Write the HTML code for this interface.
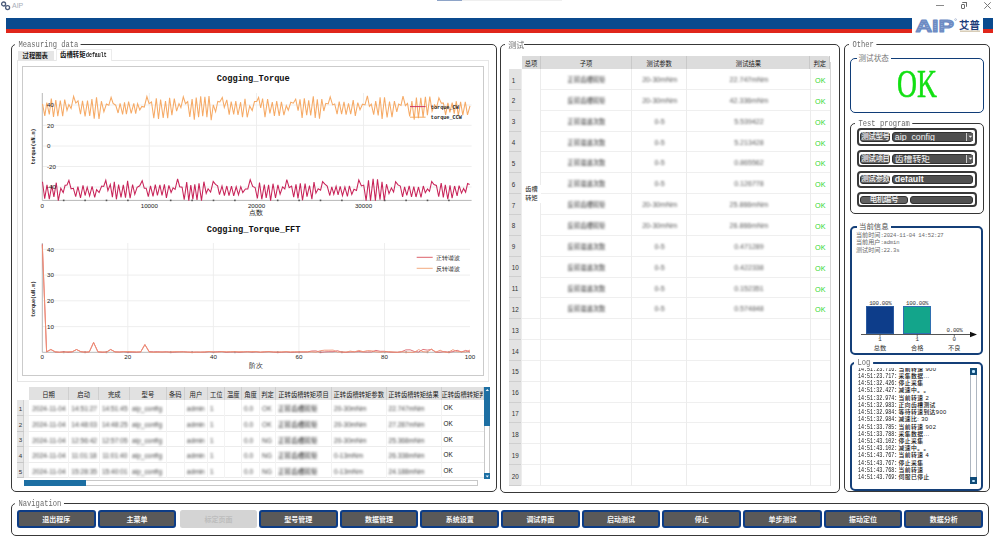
<!DOCTYPE html><html><head><meta charset="utf-8"><title>AIP</title><style>
*{box-sizing:border-box;margin:0;padding:0}
html,body{width:1000px;height:540px;overflow:hidden;background:#fff;font-family:'Liberation Sans','Noto Sans CJK SC',sans-serif;}
.a{position:absolute}
.gb{position:absolute;border:1.8px solid #353535;border-radius:5px}
.gt{position:absolute;background:#fff;font-family:'Liberation Mono','Noto Sans CJK SC',monospace;color:#6a6a6a;font-size:8.6px;line-height:8px;padding:0 3px 0 4.2px;white-space:nowrap;transform:scaleX(0.83);transform-origin:0 0}
.blur{filter:blur(0.95px)}
</style></head><body>
<svg class="a" style="left:0;top:0" width="12" height="12" viewBox="0 0 12 12">
<circle cx="3.6" cy="4" r="2" fill="none" stroke="#4b5b7a" stroke-width="1.3"/>
<circle cx="7.6" cy="7.6" r="2" fill="none" stroke="#4b5b7a" stroke-width="1.3"/></svg>
<div class="a" style="left:12px;top:2px;font:7px 'Liberation Sans','Noto Sans CJK SC',sans-serif;color:#a8adb8;line-height:8px">AIP</div>
<div class="a" style="left:936px;top:5px;width:8px;height:1px;background:#8a8a8a"></div>
<div class="a" style="left:960.5px;top:4px;width:4.6px;height:4.6px;border:1px solid #6a6a6a;border-radius:1px"></div>
<div class="a" style="left:962.2px;top:2.4px;width:4.4px;height:4.4px;border-top:1px solid #6a6a6a;border-right:1px solid #6a6a6a;border-radius:1px"></div>
<svg class="a" style="left:983px;top:1px" width="9" height="9" viewBox="0 0 9 9"><path d="M1.3 1.3L7.7 7.7M7.7 1.3L1.3 7.7" stroke="#777" stroke-width="1"/></svg>
<div class="a" style="left:437px;top:0;width:25px;height:1.2px;background:#8ea4c8"></div>
<div class="a" style="left:462px;top:0;width:100px;height:1px;background:#efefef"></div>
<div class="a" style="left:6px;top:18px;width:905.5px;height:11px;background:#0a4a8e"></div>
<div class="a" style="left:6px;top:29px;width:905.5px;height:4px;background:#e0261b"></div>
<div class="a" style="left:983.3px;top:18px;width:10.2px;height:11px;background:#0a4a8e"></div>
<div class="a" style="left:983.3px;top:29px;width:10.2px;height:4px;background:#e0261b"></div>
<svg class="a" style="left:913px;top:17px" width="70" height="17" viewBox="0 0 70 17">
<defs><pattern id="st" width="4" height="2.2" patternUnits="userSpaceOnUse"><rect width="4" height="2.2" fill="#6d8bc3"/><rect y="1.5" width="4" height="0.7" fill="#9db3dc"/></pattern></defs>
<text x="2.4" y="15" font-family="Liberation Sans" font-weight="bold" font-size="17" fill="url(#st)" stroke="#6d8bc3" stroke-width="1.1" stroke-linejoin="round" textLength="38.5" lengthAdjust="spacingAndGlyphs">AIP</text>
<circle cx="42.6" cy="2.6" r="0.9" fill="none" stroke="#7d90b8" stroke-width="0.5"/>
<text x="46" y="12.2" font-family="Noto Sans CJK SC" font-weight="bold" font-size="10.5" fill="#1b3b78" textLength="20.8" lengthAdjust="spacingAndGlyphs">艾普</text>
<rect x="47" y="13.6" width="20" height="1.1" fill="#c8b89a"/>
</svg>
<div class="gb" style="left:10.6px;top:43.6px;width:486.09999999999997px;height:448.59999999999997px;border-color:#383838;border-radius:5px"></div>
<div class="gt" style="left:15px;top:40.7px;">Measuring data</div>
<div class="gb" style="left:500.3px;top:43.9px;width:340.09999999999997px;height:448.8px;border-color:#383838;border-radius:5px"></div>
<div class="gt" style="left:505px;top:41.0px;font-family:'Liberation Sans','Noto Sans CJK SC',sans-serif;"><span style="font-size:8px;display:inline-block;transform:scaleX(1.2);transform-origin:0 0">测试</span></div>
<div class="gb" style="left:844.0px;top:44.2px;width:145.60000000000002px;height:448.1px;border-color:#383838;border-radius:5px"></div>
<div class="gt" style="left:848.5px;top:41.300000000000004px;">Other</div>
<div class="gb" style="left:10.7px;top:502.9px;width:978.4px;height:33.200000000000045px;border-color:#383838;border-radius:5px"></div>
<div class="gt" style="left:15px;top:500.0px;">Navigation</div>
<div class="a" style="left:17px;top:60px;width:472.3px;height:322.2px;border:1px solid #e6e6e6"></div>
<div class="a" style="left:18px;top:50.8px;width:35.8px;height:9.8px;background:#e6e6e6"></div>
<div class="a" style="left:22.6px;top:52.2px;font:bold 6.3px 'Liberation Sans','Noto Sans CJK SC',sans-serif;line-height:8px;color:#1a1a1a">过程图表</div>
<div class="a" style="left:55.8px;top:49.2px;width:56.4px;height:11.8px;background:#fff;border:1px solid #ececec;border-bottom:none"></div>
<div class="a" style="left:60px;top:51px;font:bold 6.4px 'Liberation Sans','Noto Sans CJK SC',sans-serif;line-height:8px;color:#111;white-space:nowrap">齿槽转矩<span style="display:inline-block;font-family:'Liberation Mono',monospace;font-size:7px;transform:scaleX(0.7);transform-origin:0 50%">default</span></div>
<div class="a" style="left:22px;top:65.5px;width:461.5px;height:310.5px;border:1.6px solid #cbcbcb;background:#fff"></div>
<svg class="a" style="left:0;top:0;overflow:visible" width="1000" height="540">
<line x1="42.3" y1="105" x2="471.6" y2="105" stroke="#ececec" stroke-width="0.9"/>
<line x1="42.3" y1="125.3" x2="471.6" y2="125.3" stroke="#ececec" stroke-width="0.9"/>
<line x1="42.3" y1="146" x2="471.6" y2="146" stroke="#ececec" stroke-width="0.9"/>
<line x1="42.3" y1="166.5" x2="471.6" y2="166.5" stroke="#ececec" stroke-width="0.9"/>
<line x1="42.3" y1="187" x2="471.6" y2="187" stroke="#ececec" stroke-width="0.9"/>
<line x1="149.3" y1="93" x2="149.3" y2="200.4" stroke="#ececec" stroke-width="0.9"/>
<line x1="256.5" y1="93" x2="256.5" y2="200.4" stroke="#ececec" stroke-width="0.9"/>
<line x1="363.5" y1="93" x2="363.5" y2="200.4" stroke="#ececec" stroke-width="0.9"/>
<line x1="42.3" y1="93" x2="42.3" y2="200.4" stroke="#b8b8b8" stroke-width="1"/>
<line x1="42.3" y1="200.4" x2="471.6" y2="200.4" stroke="#b8b8b8" stroke-width="1"/>
<polyline points="42.5,103.9 44.8,115.9 46.8,102.7 49.3,114.5 51.3,98.5 53.5,117.0 55.8,100.0 57.8,116.1 60.3,100.5 62.7,116.2 64.7,99.5 67.0,110.4 68.9,104.6 71.1,108.6 73.6,96.4 75.8,103.1 78.0,100.9 80.5,114.2 82.5,100.9 85.1,116.3 87.5,100.5 89.7,116.0 91.9,99.1 94.2,118.6 96.5,97.4 99.0,119.0 101.4,101.2 103.9,111.8 106.4,104.1 108.8,105.3 111.1,97.3 113.1,103.4 115.7,105.2 118.1,113.0 120.1,103.4 122.6,114.5 124.5,102.4 126.4,114.1 128.6,101.6 131.2,113.4 133.8,103.3 135.7,113.7 137.6,103.7 139.8,110.0 141.8,106.4 144.3,107.0 146.9,96.5 149.1,103.6 151.5,102.0 153.8,118.1 156.3,98.4 158.5,119.0 160.6,99.5 163.2,117.9 165.5,101.1 167.7,118.2 169.6,97.8 171.9,115.3 174.3,98.6 176.6,111.1 179.0,103.6 180.9,107.6 183.3,96.8 185.5,103.7 187.7,101.6 189.8,116.9 192.1,99.1 194.3,119.8 196.2,97.6 198.6,117.1 200.7,96.2 202.7,116.3 204.9,96.8 206.9,117.1 209.0,96.0 211.2,120.3 213.3,104.8 215.6,111.8 217.8,101.4 219.8,101.9 222.3,97.4 224.3,107.4 226.8,99.8 229.2,114.7 231.2,101.6 233.7,114.4 235.8,101.1 238.0,115.0 240.6,102.2 242.5,117.3 245.0,98.7 247.2,117.3 249.7,105.9 252.2,110.5 254.5,101.6 256.7,101.4 258.6,97.5 260.7,108.0 262.6,98.5 265.0,117.1 267.6,99.1 269.9,113.3 272.3,102.2 274.4,116.0 276.7,101.2 279.2,115.8 281.4,101.8 283.9,115.2 286.3,105.7 288.3,110.2 290.8,102.3 293.3,103.2 295.7,99.1 298.1,110.6 300.0,99.3 302.1,118.0 304.3,98.4 306.7,115.1 308.7,100.4 310.7,115.4 313.3,96.2 315.2,117.9 317.3,99.3 319.5,118.7 321.8,99.0 323.8,111.0 325.8,103.3 328.2,103.9 330.2,96.8 332.6,104.9 334.7,104.0 337.1,114.1 339.2,101.7 341.6,114.2 344.0,101.8 346.1,114.6 348.5,103.3 350.7,114.2 353.2,100.1 355.3,115.9 357.8,102.6 360.0,109.7 362.5,104.2 365.0,104.9 367.4,95.9 369.4,106.4 371.3,104.2 373.7,114.6 375.7,101.2 378.2,115.4 380.1,97.3 382.1,118.9 384.5,97.3 387.1,117.5 389.5,101.5 392.0,117.1 394.4,101.1 396.8,111.9 398.7,104.1 401.0,105.4 403.0,96.2 405.4,105.6 407.5,103.4 409.7,116.3 411.9,101.1 414.2,119.8 416.4,97.5 418.4,118.3 420.8,97.9 423.1,117.2 425.4,96.7 427.4,115.1 429.8,96.6 432.1,111.2 434.5,104.9 436.6,107.5 438.9,97.9 441.3,103.1 443.4,103.0 445.6,114.9 447.9,102.9 449.9,112.4 452.2,102.5 454.2,113.6 456.3,101.2 458.3,115.8 460.6,101.8 462.8,115.2 465.3,101.9 467.5,114.8 470.0,105.9" fill="none" stroke="#f6aa66" stroke-width="1.05"/>
<polyline points="42.5,181.7 44.7,198.7 47.0,184.9 49.3,199.2 51.8,185.3 53.9,196.8 56.3,182.7 58.3,200.6 60.8,188.2 63.2,192.6 65.1,185.3 67.0,185.0 68.9,180.3 71.1,188.8 73.4,188.3 75.7,196.7 77.9,186.6 80.5,197.8 83.0,185.3 85.1,195.5 87.2,187.2 89.6,196.0 92.1,186.3 94.7,197.3 96.6,189.6 99.1,192.5 101.7,186.0 103.7,186.4 105.8,180.3 107.9,190.7 110.3,184.4 112.4,197.2 114.3,181.8 116.4,199.3 118.6,184.6 121.0,197.4 123.3,184.9 125.5,197.7 127.6,180.9 130.1,198.2 132.6,184.5 134.8,194.3 137.1,187.4 139.7,185.8 142.2,180.7 144.3,188.3 146.2,188.2 148.3,196.6 150.5,185.9 153.0,196.4 155.3,184.6 157.4,195.4 159.9,184.8 162.0,195.5 164.4,184.4 166.4,197.8 168.9,185.4 171.1,192.4 173.1,187.8 175.1,189.3 177.6,178.8 179.7,186.7 182.1,187.2 184.2,199.6 186.7,182.1 188.8,200.6 190.8,185.0 192.9,199.3 194.8,184.2 197.0,199.9 199.0,183.3 201.5,200.6 203.9,181.7 206.2,193.4 208.1,188.8 210.6,192.1 213.2,181.5 215.5,184.4 217.6,185.8 219.5,194.6 222.0,186.0 224.4,195.7 226.8,186.0 229.0,195.6 231.5,186.1 233.7,195.9 236.2,186.8 238.5,194.9 240.8,186.7 242.8,192.6 245.4,188.9 247.8,188.9 250.2,179.7 252.7,186.4 255.1,187.5 257.4,198.5 259.5,182.5 261.8,199.3 264.3,184.5 266.2,197.9 268.6,184.8 270.6,200.6 273.0,183.7 275.5,198.0 277.9,184.8 280.1,194.2 282.6,186.9 284.8,188.9 286.8,179.6 289.2,187.7 291.6,186.1 293.7,197.1 296.0,184.4 298.0,198.4 300.3,183.4 302.5,200.3 305.1,183.6 307.0,196.7 309.5,185.5 311.9,199.1 314.0,182.1 315.9,193.2 318.2,188.8 320.6,190.2 322.6,181.7 324.9,184.2 327.2,186.1 329.8,195.5 331.8,186.9 333.8,194.2 336.1,186.3 338.1,194.8 340.2,186.3 342.5,195.7 344.9,187.1 347.4,196.4 349.4,185.8 351.8,194.4 354.0,189.3 356.5,190.4 358.8,180.0 361.4,185.9 363.7,185.1 366.1,200.6 368.5,180.3 370.5,200.6 373.1,178.9 375.4,200.6 377.5,179.3 380.0,199.8 382.0,181.9 384.3,200.6 386.5,184.2 389.0,193.6 391.4,187.9 393.6,192.0 395.6,181.7 398.0,184.9 400.3,186.0 402.6,196.9 404.6,186.9 406.8,195.4 409.2,185.8 411.5,197.0 413.8,186.7 416.0,197.0 418.5,187.0 421.0,197.4 423.3,186.0 425.3,192.8 427.5,189.0 429.5,191.3 431.7,181.5 434.0,184.5 436.4,185.5 438.7,196.7 441.2,183.0 443.3,197.5 445.3,184.8 447.8,199.1 450.0,185.3 452.1,198.1 454.6,186.0 457.1,195.8 459.1,185.6 461.5,193.1 463.6,188.5 465.6,192.2 467.6,183.6 469.6,184.5" fill="none" stroke="#c82358" stroke-width="1.05"/>
<text x="47" y="107.2" style="font-family:'Liberation Sans',sans-serif;font-size:6.2px;fill:#222">40</text>
<text x="47" y="127.5" style="font-family:'Liberation Sans',sans-serif;font-size:6.2px;fill:#222">20</text>
<text x="47" y="148.2" style="font-family:'Liberation Sans',sans-serif;font-size:6.2px;fill:#222">0</text>
<text x="47" y="168.7" style="font-family:'Liberation Sans',sans-serif;font-size:6.2px;fill:#222">-20</text>
<text x="47" y="189.2" style="font-family:'Liberation Sans',sans-serif;font-size:6.2px;fill:#222">-40</text>
<text x="42.3" y="207.5" text-anchor="middle" style="font-family:'Liberation Sans',sans-serif;font-size:6.2px;fill:#222">0</text>
<text x="149.3" y="207.5" text-anchor="middle" style="font-family:'Liberation Sans',sans-serif;font-size:6.2px;fill:#222">10000</text>
<text x="256.5" y="207.5" text-anchor="middle" style="font-family:'Liberation Sans',sans-serif;font-size:6.2px;fill:#222">20000</text>
<text x="363.5" y="207.5" text-anchor="middle" style="font-family:'Liberation Sans',sans-serif;font-size:6.2px;fill:#222">30000</text>
<text x="249" y="215" style="font-family:'Liberation Sans',sans-serif;font-size:6.2px;fill:#222;font-size:6.6px">点数</text>
<text transform="translate(35.3,146.5) rotate(-90)" text-anchor="middle" style="font-family:'Liberation Mono',monospace;font-weight:bold;fill:#222;font-size:5px">torque(uN.m)</text>
<text x="216.8" y="80.6" style="font-family:'Liberation Mono',monospace;font-weight:bold;font-size:8.7px;fill:#111">Cogging_Torque</text>
<rect x="62.9" y="199.6" width="1.6" height="1.6" fill="#555"/>
<rect x="62.9" y="351.5" width="1.6" height="1.6" fill="#555"/>
<rect x="84.3" y="199.6" width="1.6" height="1.6" fill="#555"/>
<rect x="84.3" y="351.5" width="1.6" height="1.6" fill="#555"/>
<rect x="105.7" y="199.6" width="1.6" height="1.6" fill="#555"/>
<rect x="105.7" y="351.5" width="1.6" height="1.6" fill="#555"/>
<rect x="127.1" y="199.6" width="1.6" height="1.6" fill="#555"/>
<rect x="127.1" y="351.5" width="1.6" height="1.6" fill="#555"/>
<rect x="169.9" y="199.6" width="1.6" height="1.6" fill="#555"/>
<rect x="169.9" y="351.5" width="1.6" height="1.6" fill="#555"/>
<rect x="191.3" y="199.6" width="1.6" height="1.6" fill="#555"/>
<rect x="191.3" y="351.5" width="1.6" height="1.6" fill="#555"/>
<rect x="212.7" y="199.6" width="1.6" height="1.6" fill="#555"/>
<rect x="212.7" y="351.5" width="1.6" height="1.6" fill="#555"/>
<rect x="234.1" y="199.6" width="1.6" height="1.6" fill="#555"/>
<rect x="234.1" y="351.5" width="1.6" height="1.6" fill="#555"/>
<rect x="276.9" y="199.6" width="1.6" height="1.6" fill="#555"/>
<rect x="276.9" y="351.5" width="1.6" height="1.6" fill="#555"/>
<rect x="298.3" y="199.6" width="1.6" height="1.6" fill="#555"/>
<rect x="298.3" y="351.5" width="1.6" height="1.6" fill="#555"/>
<rect x="319.7" y="199.6" width="1.6" height="1.6" fill="#555"/>
<rect x="319.7" y="351.5" width="1.6" height="1.6" fill="#555"/>
<rect x="341.1" y="199.6" width="1.6" height="1.6" fill="#555"/>
<rect x="341.1" y="351.5" width="1.6" height="1.6" fill="#555"/>
<rect x="383.9" y="199.6" width="1.6" height="1.6" fill="#555"/>
<rect x="383.9" y="351.5" width="1.6" height="1.6" fill="#555"/>
<rect x="405.3" y="199.6" width="1.6" height="1.6" fill="#555"/>
<rect x="405.3" y="351.5" width="1.6" height="1.6" fill="#555"/>
<rect x="426.7" y="199.6" width="1.6" height="1.6" fill="#555"/>
<rect x="426.7" y="351.5" width="1.6" height="1.6" fill="#555"/>
<rect x="448.1" y="199.6" width="1.6" height="1.6" fill="#555"/>
<rect x="448.1" y="351.5" width="1.6" height="1.6" fill="#555"/>
<line x1="410" y1="106.6" x2="425.6" y2="106.6" stroke="#c8245a" stroke-width="0.9"/>
<line x1="410" y1="117.2" x2="425.6" y2="117.2" stroke="#f4a454" stroke-width="0.9"/>
<text x="430.8" y="108.6" style="font-family:'Liberation Mono',monospace;font-weight:bold;fill:#222;font-size:5.2px">torque_CW</text>
<text x="430.8" y="119.2" style="font-family:'Liberation Mono',monospace;font-weight:bold;fill:#222;font-size:5.2px">torque_CCW</text>
<line x1="42.3" y1="326.6" x2="470" y2="326.6" stroke="#ececec" stroke-width="0.9"/>
<line x1="42.3" y1="300.8" x2="470" y2="300.8" stroke="#ececec" stroke-width="0.9"/>
<line x1="42.3" y1="275.1" x2="470" y2="275.1" stroke="#ececec" stroke-width="0.9"/>
<line x1="42.3" y1="249.3" x2="470" y2="249.3" stroke="#ececec" stroke-width="0.9"/>
<line x1="127.8" y1="243" x2="127.8" y2="352.3" stroke="#ececec" stroke-width="0.9"/>
<line x1="213.4" y1="243" x2="213.4" y2="352.3" stroke="#ececec" stroke-width="0.9"/>
<line x1="298.9" y1="243" x2="298.9" y2="352.3" stroke="#ececec" stroke-width="0.9"/>
<line x1="384.5" y1="243" x2="384.5" y2="352.3" stroke="#ececec" stroke-width="0.9"/>
<line x1="42.3" y1="243" x2="42.3" y2="352.3" stroke="#b8b8b8" stroke-width="1"/>
<line x1="42.3" y1="352.3" x2="470" y2="352.3" stroke="#b8b8b8" stroke-width="1"/>
<polyline points="42.3,244.2 46.6,351.9 50.9,349.5 55.1,352.0 59.4,352.2 63.7,351.6 68.0,352.3 72.2,351.9 76.5,349.5 80.8,351.6 85.1,352.2 89.3,351.9 93.6,342.5 97.9,351.8 102.2,352.3 106.5,352.0 110.7,349.5 115.0,351.8 119.3,352.0 123.6,351.7 127.8,352.2 132.1,352.1 136.4,352.2 140.7,351.9 144.9,344.6 149.2,351.6 153.5,351.8 157.8,351.7 162.1,352.0 166.3,351.7 170.6,352.2 174.9,352.1 179.2,351.8 183.4,351.7 187.7,352.0 192.0,352.2 196.3,352.1 200.5,352.1 204.8,352.1 209.1,351.7 213.4,352.1 217.7,351.6 221.9,351.6 226.2,352.3 230.5,352.0 234.8,351.9 239.0,352.3 243.3,352.0 247.6,351.6 251.9,352.2 256.1,351.8 260.4,352.2 264.7,351.9 269.0,351.6 273.3,352.1 277.5,352.3 281.8,352.2 286.1,351.9 290.4,352.3 294.6,352.2 298.9,351.9 303.2,352.0 307.5,351.9 311.8,351.0 316.0,350.9 320.3,352.3 324.6,351.9 328.9,351.7 333.1,351.7 337.4,350.7 341.7,352.1 346.0,352.3 350.2,351.9 354.5,351.8 358.8,351.5 363.1,351.9 367.4,352.0 371.6,351.9 375.9,350.4 380.2,351.3 384.5,351.3 388.7,352.0 393.0,352.2 397.3,352.3 401.6,351.7 405.8,349.9 410.1,349.8 414.4,351.5 418.7,352.0 423.0,349.4 427.2,350.1 431.5,349.5 435.8,352.1 440.1,352.2 444.3,351.5 448.6,352.3 452.9,351.6 457.2,350.3 461.4,352.0 465.7,350.4 470.0,352.0" fill="none" stroke="#d8505a" stroke-width="0.8"/>
<polyline points="42.3,245.4 46.6,351.6 50.9,349.5 55.1,351.6 59.4,352.3 63.7,352.2 68.0,351.7 72.2,351.7 76.5,349.5 80.8,351.8 85.1,352.1 89.3,351.8 93.6,342.5 97.9,351.8 102.2,351.9 106.5,352.2 110.7,349.5 115.0,352.0 119.3,352.0 123.6,351.7 127.8,351.5 132.1,351.6 136.4,351.9 140.7,352.0 144.9,344.6 149.2,352.1 153.5,352.3 157.8,352.3 162.1,351.9 166.3,352.1 170.6,352.0 174.9,351.6 179.2,351.9 183.4,351.9 187.7,352.1 192.0,352.3 196.3,352.0 200.5,352.2 204.8,351.9 209.1,351.5 213.4,351.8 217.7,352.2 221.9,351.6 226.2,351.7 230.5,351.7 234.8,351.6 239.0,351.7 243.3,351.7 247.6,352.0 251.9,351.5 256.1,351.6 260.4,352.2 264.7,351.7 269.0,351.7 273.3,351.9 277.5,351.9 281.8,351.9 286.1,351.6 290.4,351.9 294.6,351.7 298.9,352.0 303.2,351.7 307.5,351.9 311.8,351.8 316.0,352.2 320.3,350.7 324.6,350.2 328.9,350.2 333.1,350.1 337.4,352.0 341.7,351.9 346.0,352.1 350.2,351.1 354.5,351.9 358.8,350.4 363.1,351.7 367.4,350.6 371.6,350.8 375.9,351.8 380.2,352.2 384.5,351.8 388.7,351.6 393.0,352.0 397.3,352.3 401.6,351.7 405.8,352.2 410.1,352.3 414.4,352.3 418.7,349.6 423.0,351.7 427.2,352.0 431.5,349.0 435.8,352.2 440.1,350.2 444.3,352.2 448.6,352.2 452.9,349.7 457.2,351.6 461.4,351.6 465.7,351.9 470.0,350.1" fill="none" stroke="#f09070" stroke-width="0.9"/>
<text x="47" y="328.8" style="font-family:'Liberation Sans',sans-serif;font-size:6.2px;fill:#222">10</text>
<text x="47" y="303.0" style="font-family:'Liberation Sans',sans-serif;font-size:6.2px;fill:#222">20</text>
<text x="47" y="277.2" style="font-family:'Liberation Sans',sans-serif;font-size:6.2px;fill:#222">30</text>
<text x="47" y="251.5" style="font-family:'Liberation Sans',sans-serif;font-size:6.2px;fill:#222">40</text>
<text x="42.3" y="359" text-anchor="middle" style="font-family:'Liberation Sans',sans-serif;font-size:6.2px;fill:#222">0</text>
<text x="127.8" y="359" text-anchor="middle" style="font-family:'Liberation Sans',sans-serif;font-size:6.2px;fill:#222">20</text>
<text x="213.4" y="359" text-anchor="middle" style="font-family:'Liberation Sans',sans-serif;font-size:6.2px;fill:#222">40</text>
<text x="298.9" y="359" text-anchor="middle" style="font-family:'Liberation Sans',sans-serif;font-size:6.2px;fill:#222">60</text>
<text x="384.5" y="359" text-anchor="middle" style="font-family:'Liberation Sans',sans-serif;font-size:6.2px;fill:#222">80</text>
<text x="470.0" y="359" text-anchor="middle" style="font-family:'Liberation Sans',sans-serif;font-size:6.2px;fill:#222">100</text>
<text x="249" y="367.5" style="font-family:'Liberation Sans',sans-serif;font-size:6.2px;fill:#222;font-size:6.6px">阶次</text>
<text transform="translate(35.3,299) rotate(-90)" text-anchor="middle" style="font-family:'Liberation Mono',monospace;font-weight:bold;fill:#222;font-size:5px">torque(uN.m)</text>
<text x="206.7" y="232" style="font-family:'Liberation Mono',monospace;font-weight:bold;font-size:8.7px;fill:#111">Cogging_Torque_FFT</text>
<line x1="416.7" y1="257.3" x2="432.7" y2="257.3" stroke="#d8505a" stroke-width="0.9"/>
<line x1="416.7" y1="268.3" x2="432.7" y2="268.3" stroke="#f2a070" stroke-width="0.9"/>
<text x="436" y="259.8" style="font-family:'Liberation Sans',sans-serif;font-size:6.2px;fill:#222;font-size:6.4px">正转谐波</text>
<text x="436" y="270.8" style="font-family:'Liberation Sans',sans-serif;font-size:6.2px;fill:#222;font-size:6.4px">反转谐波</text>
</svg>
<div class="a" style="left:29.2px;top:386.6px;width:454.8px;height:13.8px;background:#e1e1e1"></div>
<div class="a" style="left:16.6px;top:400.40000000000003px;width:7.8px;height:77.5px;background:#e6e6e6;border-right:1px solid #d0d0d0"></div>
<div class="a" style="left:24.4px;top:400.40000000000003px;width:4.8px;height:77.5px;background:#f1f1f1"></div>
<div class="a" style="left:29.2px;top:386.6px;width:39.599999999999994px;height:13.8px;border-right:1px solid #cfcfcf;font:6.3px 'Liberation Sans','Noto Sans CJK SC',sans-serif;line-height:13.8px;padding-top:1.2px;text-align:center;color:#222;overflow:hidden;white-space:nowrap">日期</div>
<div class="a" style="left:68.8px;top:386.6px;width:30.700000000000003px;height:13.8px;border-right:1px solid #cfcfcf;font:6.3px 'Liberation Sans','Noto Sans CJK SC',sans-serif;line-height:13.8px;padding-top:1.2px;text-align:center;color:#222;overflow:hidden;white-space:nowrap">启动</div>
<div class="a" style="left:99.5px;top:386.6px;width:30.5px;height:13.8px;border-right:1px solid #cfcfcf;font:6.3px 'Liberation Sans','Noto Sans CJK SC',sans-serif;line-height:13.8px;padding-top:1.2px;text-align:center;color:#222;overflow:hidden;white-space:nowrap">完成</div>
<div class="a" style="left:130px;top:386.6px;width:36.80000000000001px;height:13.8px;border-right:1px solid #cfcfcf;font:6.3px 'Liberation Sans','Noto Sans CJK SC',sans-serif;line-height:13.8px;padding-top:1.2px;text-align:center;color:#222;overflow:hidden;white-space:nowrap">型号</div>
<div class="a" style="left:166.8px;top:386.6px;width:18.0px;height:13.8px;border-right:1px solid #cfcfcf;font:6.3px 'Liberation Sans','Noto Sans CJK SC',sans-serif;line-height:13.8px;padding-top:1.2px;text-align:center;color:#222;overflow:hidden;white-space:nowrap">条码</div>
<div class="a" style="left:184.8px;top:386.6px;width:23.19999999999999px;height:13.8px;border-right:1px solid #cfcfcf;font:6.3px 'Liberation Sans','Noto Sans CJK SC',sans-serif;line-height:13.8px;padding-top:1.2px;text-align:center;color:#222;overflow:hidden;white-space:nowrap">用户</div>
<div class="a" style="left:208px;top:386.6px;width:17.400000000000006px;height:13.8px;border-right:1px solid #cfcfcf;font:6.3px 'Liberation Sans','Noto Sans CJK SC',sans-serif;line-height:13.8px;padding-top:1.2px;text-align:center;color:#222;overflow:hidden;white-space:nowrap">工位</div>
<div class="a" style="left:225.4px;top:386.6px;width:16.599999999999994px;height:13.8px;border-right:1px solid #cfcfcf;font:6.3px 'Liberation Sans','Noto Sans CJK SC',sans-serif;line-height:13.8px;padding-top:1.2px;text-align:center;color:#222;overflow:hidden;white-space:nowrap">温度</div>
<div class="a" style="left:242px;top:386.6px;width:18px;height:13.8px;border-right:1px solid #cfcfcf;font:6.3px 'Liberation Sans','Noto Sans CJK SC',sans-serif;line-height:13.8px;padding-top:1.2px;text-align:center;color:#222;overflow:hidden;white-space:nowrap">角度</div>
<div class="a" style="left:260px;top:386.6px;width:16px;height:13.8px;border-right:1px solid #cfcfcf;font:6.3px 'Liberation Sans','Noto Sans CJK SC',sans-serif;line-height:13.8px;padding-top:1.2px;text-align:center;color:#222;overflow:hidden;white-space:nowrap">判定</div>
<div class="a" style="left:276px;top:386.6px;width:56px;height:13.8px;border-right:1px solid #cfcfcf;font:6.3px 'Liberation Sans','Noto Sans CJK SC',sans-serif;line-height:13.8px;padding-top:1.2px;text-align:center;color:#222;overflow:hidden;white-space:nowrap">正转齿槽转矩项目</div>
<div class="a" style="left:332px;top:386.6px;width:54.5px;height:13.8px;border-right:1px solid #cfcfcf;font:6.3px 'Liberation Sans','Noto Sans CJK SC',sans-serif;line-height:13.8px;padding-top:1.2px;text-align:center;color:#222;overflow:hidden;white-space:nowrap">正转齿槽转矩参数</div>
<div class="a" style="left:386.5px;top:386.6px;width:55.0px;height:13.8px;border-right:1px solid #cfcfcf;font:6.3px 'Liberation Sans','Noto Sans CJK SC',sans-serif;line-height:13.8px;padding-top:1.2px;text-align:center;color:#222;overflow:hidden;white-space:nowrap">正转齿槽转矩结果</div>
<div class="a" style="left:441.5px;top:386.6px;width:42.5px;height:13.8px;border-right:1px solid #cfcfcf;font:6.3px 'Liberation Sans','Noto Sans CJK SC',sans-serif;line-height:13.8px;padding-top:1.2px;text-align:center;color:#222;overflow:hidden;white-space:nowrap">正转齿槽转矩判定</div>
<div class="a" style="left:16.6px;top:415.00000000000006px;width:467.4px;height:1px;background:#ececec"></div>
<div class="a" style="left:16.6px;top:400.40000000000003px;width:7.8px;height:15.6px;font:6.2px 'Liberation Sans','Noto Sans CJK SC',sans-serif;line-height:15.6px;padding-top:0.8px;text-align:center;color:#333;border-bottom:1px solid #c8c8c8">1</div>
<div class="a blur" style="left:29.2px;top:400.40000000000003px;width:39.599999999999994px;text-align:center;padding-left:0px;font:6.6px 'Liberation Sans','Noto Sans CJK SC',sans-serif;line-height:15.6px;padding-top:1px;color:#4a4a4a;overflow:hidden;white-space:nowrap">2024-11-04</div>
<div class="a blur" style="left:68.8px;top:400.40000000000003px;width:30.700000000000003px;text-align:center;padding-left:0px;font:6.6px 'Liberation Sans','Noto Sans CJK SC',sans-serif;line-height:15.6px;padding-top:1px;color:#4a4a4a;overflow:hidden;white-space:nowrap">14:51:27</div>
<div class="a blur" style="left:99.5px;top:400.40000000000003px;width:30.5px;text-align:center;padding-left:0px;font:6.6px 'Liberation Sans','Noto Sans CJK SC',sans-serif;line-height:15.6px;padding-top:1px;color:#4a4a4a;overflow:hidden;white-space:nowrap">14:51:45</div>
<div class="a blur" style="left:130px;top:400.40000000000003px;width:36.80000000000001px;text-align:left;padding-left:2px;font:6.6px 'Liberation Sans','Noto Sans CJK SC',sans-serif;line-height:15.6px;padding-top:1px;color:#4a4a4a;overflow:hidden;white-space:nowrap">aip_config</div>
<div class="a blur" style="left:184.8px;top:400.40000000000003px;width:23.19999999999999px;text-align:left;padding-left:2px;font:6.6px 'Liberation Sans','Noto Sans CJK SC',sans-serif;line-height:15.6px;padding-top:1px;color:#4a4a4a;overflow:hidden;white-space:nowrap">admin</div>
<div class="a blur" style="left:208px;top:400.40000000000003px;width:17.400000000000006px;text-align:left;padding-left:2px;font:6.6px 'Liberation Sans','Noto Sans CJK SC',sans-serif;line-height:15.6px;padding-top:1px;color:#4a4a4a;overflow:hidden;white-space:nowrap">1</div>
<div class="a blur" style="left:242px;top:400.40000000000003px;width:18px;text-align:left;padding-left:2px;font:6.6px 'Liberation Sans','Noto Sans CJK SC',sans-serif;line-height:15.6px;padding-top:1px;color:#4a4a4a;overflow:hidden;white-space:nowrap">0.0</div>
<div class="a blur" style="left:260px;top:400.40000000000003px;width:16px;text-align:left;padding-left:2px;font:6.6px 'Liberation Sans','Noto Sans CJK SC',sans-serif;line-height:15.6px;padding-top:1px;color:#4a4a4a;overflow:hidden;white-space:nowrap">OK</div>
<div class="a blur" style="left:276px;top:400.40000000000003px;width:56px;text-align:left;padding-left:2px;font:500 6.6px 'Liberation Sans','Noto Sans CJK SC',sans-serif;line-height:15.6px;padding-top:1px;color:#4a4a4a;overflow:hidden;white-space:nowrap">正转齿槽转矩</div>
<div class="a blur" style="left:332px;top:400.40000000000003px;width:54.5px;text-align:left;padding-left:2px;font:6.6px 'Liberation Sans','Noto Sans CJK SC',sans-serif;line-height:15.6px;padding-top:1px;color:#4a4a4a;overflow:hidden;white-space:nowrap">20-30mNm</div>
<div class="a blur" style="left:386.5px;top:400.40000000000003px;width:55.0px;text-align:left;padding-left:2px;font:6.6px 'Liberation Sans','Noto Sans CJK SC',sans-serif;line-height:15.6px;padding-top:1px;color:#4a4a4a;overflow:hidden;white-space:nowrap">22.747mNm</div>
<div class="a" style="left:443.5px;top:400.40000000000003px;font:6.4px 'Liberation Sans','Noto Sans CJK SC',sans-serif;line-height:15.6px;color:#111">OK</div>
<div class="a" style="left:16.6px;top:430.6000000000001px;width:467.4px;height:1px;background:#ececec"></div>
<div class="a" style="left:16.6px;top:416.00000000000006px;width:7.8px;height:15.6px;font:6.2px 'Liberation Sans','Noto Sans CJK SC',sans-serif;line-height:15.6px;padding-top:0.8px;text-align:center;color:#333;border-bottom:1px solid #c8c8c8">2</div>
<div class="a blur" style="left:29.2px;top:416.00000000000006px;width:39.599999999999994px;text-align:center;padding-left:0px;font:6.6px 'Liberation Sans','Noto Sans CJK SC',sans-serif;line-height:15.6px;padding-top:1px;color:#4a4a4a;overflow:hidden;white-space:nowrap">2024-11-04</div>
<div class="a blur" style="left:68.8px;top:416.00000000000006px;width:30.700000000000003px;text-align:center;padding-left:0px;font:6.6px 'Liberation Sans','Noto Sans CJK SC',sans-serif;line-height:15.6px;padding-top:1px;color:#4a4a4a;overflow:hidden;white-space:nowrap">14:48:03</div>
<div class="a blur" style="left:99.5px;top:416.00000000000006px;width:30.5px;text-align:center;padding-left:0px;font:6.6px 'Liberation Sans','Noto Sans CJK SC',sans-serif;line-height:15.6px;padding-top:1px;color:#4a4a4a;overflow:hidden;white-space:nowrap">14:48:25</div>
<div class="a blur" style="left:130px;top:416.00000000000006px;width:36.80000000000001px;text-align:left;padding-left:2px;font:6.6px 'Liberation Sans','Noto Sans CJK SC',sans-serif;line-height:15.6px;padding-top:1px;color:#4a4a4a;overflow:hidden;white-space:nowrap">aip_config</div>
<div class="a blur" style="left:184.8px;top:416.00000000000006px;width:23.19999999999999px;text-align:left;padding-left:2px;font:6.6px 'Liberation Sans','Noto Sans CJK SC',sans-serif;line-height:15.6px;padding-top:1px;color:#4a4a4a;overflow:hidden;white-space:nowrap">admin</div>
<div class="a blur" style="left:208px;top:416.00000000000006px;width:17.400000000000006px;text-align:left;padding-left:2px;font:6.6px 'Liberation Sans','Noto Sans CJK SC',sans-serif;line-height:15.6px;padding-top:1px;color:#4a4a4a;overflow:hidden;white-space:nowrap">1</div>
<div class="a blur" style="left:242px;top:416.00000000000006px;width:18px;text-align:left;padding-left:2px;font:6.6px 'Liberation Sans','Noto Sans CJK SC',sans-serif;line-height:15.6px;padding-top:1px;color:#4a4a4a;overflow:hidden;white-space:nowrap">0.0</div>
<div class="a blur" style="left:260px;top:416.00000000000006px;width:16px;text-align:left;padding-left:2px;font:6.6px 'Liberation Sans','Noto Sans CJK SC',sans-serif;line-height:15.6px;padding-top:1px;color:#4a4a4a;overflow:hidden;white-space:nowrap">OK</div>
<div class="a blur" style="left:276px;top:416.00000000000006px;width:56px;text-align:left;padding-left:2px;font:500 6.6px 'Liberation Sans','Noto Sans CJK SC',sans-serif;line-height:15.6px;padding-top:1px;color:#4a4a4a;overflow:hidden;white-space:nowrap">正转齿槽转矩</div>
<div class="a blur" style="left:332px;top:416.00000000000006px;width:54.5px;text-align:left;padding-left:2px;font:6.6px 'Liberation Sans','Noto Sans CJK SC',sans-serif;line-height:15.6px;padding-top:1px;color:#4a4a4a;overflow:hidden;white-space:nowrap">20-30mNm</div>
<div class="a blur" style="left:386.5px;top:416.00000000000006px;width:55.0px;text-align:left;padding-left:2px;font:6.6px 'Liberation Sans','Noto Sans CJK SC',sans-serif;line-height:15.6px;padding-top:1px;color:#4a4a4a;overflow:hidden;white-space:nowrap">27.287mNm</div>
<div class="a" style="left:443.5px;top:416.00000000000006px;font:6.4px 'Liberation Sans','Noto Sans CJK SC',sans-serif;line-height:15.6px;color:#111">OK</div>
<div class="a" style="left:16.6px;top:446.20000000000005px;width:467.4px;height:1px;background:#ececec"></div>
<div class="a" style="left:16.6px;top:431.6px;width:7.8px;height:15.6px;font:6.2px 'Liberation Sans','Noto Sans CJK SC',sans-serif;line-height:15.6px;padding-top:0.8px;text-align:center;color:#333;border-bottom:1px solid #c8c8c8">3</div>
<div class="a blur" style="left:29.2px;top:431.6px;width:39.599999999999994px;text-align:center;padding-left:0px;font:6.6px 'Liberation Sans','Noto Sans CJK SC',sans-serif;line-height:15.6px;padding-top:1px;color:#4a4a4a;overflow:hidden;white-space:nowrap">2024-11-04</div>
<div class="a blur" style="left:68.8px;top:431.6px;width:30.700000000000003px;text-align:center;padding-left:0px;font:6.6px 'Liberation Sans','Noto Sans CJK SC',sans-serif;line-height:15.6px;padding-top:1px;color:#4a4a4a;overflow:hidden;white-space:nowrap">12:56:42</div>
<div class="a blur" style="left:99.5px;top:431.6px;width:30.5px;text-align:center;padding-left:0px;font:6.6px 'Liberation Sans','Noto Sans CJK SC',sans-serif;line-height:15.6px;padding-top:1px;color:#4a4a4a;overflow:hidden;white-space:nowrap">12:57:05</div>
<div class="a blur" style="left:130px;top:431.6px;width:36.80000000000001px;text-align:left;padding-left:2px;font:6.6px 'Liberation Sans','Noto Sans CJK SC',sans-serif;line-height:15.6px;padding-top:1px;color:#4a4a4a;overflow:hidden;white-space:nowrap">aip_config</div>
<div class="a blur" style="left:184.8px;top:431.6px;width:23.19999999999999px;text-align:left;padding-left:2px;font:6.6px 'Liberation Sans','Noto Sans CJK SC',sans-serif;line-height:15.6px;padding-top:1px;color:#4a4a4a;overflow:hidden;white-space:nowrap">admin</div>
<div class="a blur" style="left:208px;top:431.6px;width:17.400000000000006px;text-align:left;padding-left:2px;font:6.6px 'Liberation Sans','Noto Sans CJK SC',sans-serif;line-height:15.6px;padding-top:1px;color:#4a4a4a;overflow:hidden;white-space:nowrap">1</div>
<div class="a blur" style="left:242px;top:431.6px;width:18px;text-align:left;padding-left:2px;font:6.6px 'Liberation Sans','Noto Sans CJK SC',sans-serif;line-height:15.6px;padding-top:1px;color:#4a4a4a;overflow:hidden;white-space:nowrap">0.0</div>
<div class="a blur" style="left:260px;top:431.6px;width:16px;text-align:left;padding-left:2px;font:6.6px 'Liberation Sans','Noto Sans CJK SC',sans-serif;line-height:15.6px;padding-top:1px;color:#4a4a4a;overflow:hidden;white-space:nowrap">NG</div>
<div class="a blur" style="left:276px;top:431.6px;width:56px;text-align:left;padding-left:2px;font:500 6.6px 'Liberation Sans','Noto Sans CJK SC',sans-serif;line-height:15.6px;padding-top:1px;color:#4a4a4a;overflow:hidden;white-space:nowrap">正转齿槽转矩</div>
<div class="a blur" style="left:332px;top:431.6px;width:54.5px;text-align:left;padding-left:2px;font:6.6px 'Liberation Sans','Noto Sans CJK SC',sans-serif;line-height:15.6px;padding-top:1px;color:#4a4a4a;overflow:hidden;white-space:nowrap">20-30mNm</div>
<div class="a blur" style="left:386.5px;top:431.6px;width:55.0px;text-align:left;padding-left:2px;font:6.6px 'Liberation Sans','Noto Sans CJK SC',sans-serif;line-height:15.6px;padding-top:1px;color:#4a4a4a;overflow:hidden;white-space:nowrap">25.368mNm</div>
<div class="a" style="left:443.5px;top:431.6px;font:6.4px 'Liberation Sans','Noto Sans CJK SC',sans-serif;line-height:15.6px;color:#111">OK</div>
<div class="a" style="left:16.6px;top:461.80000000000007px;width:467.4px;height:1px;background:#ececec"></div>
<div class="a" style="left:16.6px;top:447.20000000000005px;width:7.8px;height:15.6px;font:6.2px 'Liberation Sans','Noto Sans CJK SC',sans-serif;line-height:15.6px;padding-top:0.8px;text-align:center;color:#333;border-bottom:1px solid #c8c8c8">4</div>
<div class="a blur" style="left:29.2px;top:447.20000000000005px;width:39.599999999999994px;text-align:center;padding-left:0px;font:6.6px 'Liberation Sans','Noto Sans CJK SC',sans-serif;line-height:15.6px;padding-top:1px;color:#4a4a4a;overflow:hidden;white-space:nowrap">2024-11-04</div>
<div class="a blur" style="left:68.8px;top:447.20000000000005px;width:30.700000000000003px;text-align:center;padding-left:0px;font:6.6px 'Liberation Sans','Noto Sans CJK SC',sans-serif;line-height:15.6px;padding-top:1px;color:#4a4a4a;overflow:hidden;white-space:nowrap">11:01:18</div>
<div class="a blur" style="left:99.5px;top:447.20000000000005px;width:30.5px;text-align:center;padding-left:0px;font:6.6px 'Liberation Sans','Noto Sans CJK SC',sans-serif;line-height:15.6px;padding-top:1px;color:#4a4a4a;overflow:hidden;white-space:nowrap">11:01:40</div>
<div class="a blur" style="left:130px;top:447.20000000000005px;width:36.80000000000001px;text-align:left;padding-left:2px;font:6.6px 'Liberation Sans','Noto Sans CJK SC',sans-serif;line-height:15.6px;padding-top:1px;color:#4a4a4a;overflow:hidden;white-space:nowrap">aip_config</div>
<div class="a blur" style="left:184.8px;top:447.20000000000005px;width:23.19999999999999px;text-align:left;padding-left:2px;font:6.6px 'Liberation Sans','Noto Sans CJK SC',sans-serif;line-height:15.6px;padding-top:1px;color:#4a4a4a;overflow:hidden;white-space:nowrap">admin</div>
<div class="a blur" style="left:208px;top:447.20000000000005px;width:17.400000000000006px;text-align:left;padding-left:2px;font:6.6px 'Liberation Sans','Noto Sans CJK SC',sans-serif;line-height:15.6px;padding-top:1px;color:#4a4a4a;overflow:hidden;white-space:nowrap">1</div>
<div class="a blur" style="left:242px;top:447.20000000000005px;width:18px;text-align:left;padding-left:2px;font:6.6px 'Liberation Sans','Noto Sans CJK SC',sans-serif;line-height:15.6px;padding-top:1px;color:#4a4a4a;overflow:hidden;white-space:nowrap">0.0</div>
<div class="a blur" style="left:260px;top:447.20000000000005px;width:16px;text-align:left;padding-left:2px;font:6.6px 'Liberation Sans','Noto Sans CJK SC',sans-serif;line-height:15.6px;padding-top:1px;color:#4a4a4a;overflow:hidden;white-space:nowrap">NG</div>
<div class="a blur" style="left:276px;top:447.20000000000005px;width:56px;text-align:left;padding-left:2px;font:500 6.6px 'Liberation Sans','Noto Sans CJK SC',sans-serif;line-height:15.6px;padding-top:1px;color:#4a4a4a;overflow:hidden;white-space:nowrap">正转齿槽转矩</div>
<div class="a blur" style="left:332px;top:447.20000000000005px;width:54.5px;text-align:left;padding-left:2px;font:6.6px 'Liberation Sans','Noto Sans CJK SC',sans-serif;line-height:15.6px;padding-top:1px;color:#4a4a4a;overflow:hidden;white-space:nowrap">0-13mNm</div>
<div class="a blur" style="left:386.5px;top:447.20000000000005px;width:55.0px;text-align:left;padding-left:2px;font:6.6px 'Liberation Sans','Noto Sans CJK SC',sans-serif;line-height:15.6px;padding-top:1px;color:#4a4a4a;overflow:hidden;white-space:nowrap">26.338mNm</div>
<div class="a" style="left:443.5px;top:447.20000000000005px;font:6.4px 'Liberation Sans','Noto Sans CJK SC',sans-serif;line-height:15.6px;color:#111">OK</div>
<div class="a" style="left:16.6px;top:477.40000000000003px;width:467.4px;height:1px;background:#ececec"></div>
<div class="a" style="left:16.6px;top:462.8px;width:7.8px;height:15.6px;font:6.2px 'Liberation Sans','Noto Sans CJK SC',sans-serif;line-height:15.6px;padding-top:0.8px;text-align:center;color:#333;border-bottom:1px solid #c8c8c8">5</div>
<div class="a blur" style="left:29.2px;top:462.8px;width:39.599999999999994px;text-align:center;padding-left:0px;font:6.6px 'Liberation Sans','Noto Sans CJK SC',sans-serif;line-height:15.6px;padding-top:1px;color:#4a4a4a;overflow:hidden;white-space:nowrap">2024-11-04</div>
<div class="a blur" style="left:68.8px;top:462.8px;width:30.700000000000003px;text-align:center;padding-left:0px;font:6.6px 'Liberation Sans','Noto Sans CJK SC',sans-serif;line-height:15.6px;padding-top:1px;color:#4a4a4a;overflow:hidden;white-space:nowrap">15:28:35</div>
<div class="a blur" style="left:99.5px;top:462.8px;width:30.5px;text-align:center;padding-left:0px;font:6.6px 'Liberation Sans','Noto Sans CJK SC',sans-serif;line-height:15.6px;padding-top:1px;color:#4a4a4a;overflow:hidden;white-space:nowrap">15:40:01</div>
<div class="a blur" style="left:130px;top:462.8px;width:36.80000000000001px;text-align:left;padding-left:2px;font:6.6px 'Liberation Sans','Noto Sans CJK SC',sans-serif;line-height:15.6px;padding-top:1px;color:#4a4a4a;overflow:hidden;white-space:nowrap">aip_config</div>
<div class="a blur" style="left:184.8px;top:462.8px;width:23.19999999999999px;text-align:left;padding-left:2px;font:6.6px 'Liberation Sans','Noto Sans CJK SC',sans-serif;line-height:15.6px;padding-top:1px;color:#4a4a4a;overflow:hidden;white-space:nowrap">admin</div>
<div class="a blur" style="left:208px;top:462.8px;width:17.400000000000006px;text-align:left;padding-left:2px;font:6.6px 'Liberation Sans','Noto Sans CJK SC',sans-serif;line-height:15.6px;padding-top:1px;color:#4a4a4a;overflow:hidden;white-space:nowrap">1</div>
<div class="a blur" style="left:242px;top:462.8px;width:18px;text-align:left;padding-left:2px;font:6.6px 'Liberation Sans','Noto Sans CJK SC',sans-serif;line-height:15.6px;padding-top:1px;color:#4a4a4a;overflow:hidden;white-space:nowrap">0.0</div>
<div class="a blur" style="left:260px;top:462.8px;width:16px;text-align:left;padding-left:2px;font:6.6px 'Liberation Sans','Noto Sans CJK SC',sans-serif;line-height:15.6px;padding-top:1px;color:#4a4a4a;overflow:hidden;white-space:nowrap">NG</div>
<div class="a blur" style="left:276px;top:462.8px;width:56px;text-align:left;padding-left:2px;font:500 6.6px 'Liberation Sans','Noto Sans CJK SC',sans-serif;line-height:15.6px;padding-top:1px;color:#4a4a4a;overflow:hidden;white-space:nowrap">正转齿槽转矩</div>
<div class="a blur" style="left:332px;top:462.8px;width:54.5px;text-align:left;padding-left:2px;font:6.6px 'Liberation Sans','Noto Sans CJK SC',sans-serif;line-height:15.6px;padding-top:1px;color:#4a4a4a;overflow:hidden;white-space:nowrap">0-13mNm</div>
<div class="a blur" style="left:386.5px;top:462.8px;width:55.0px;text-align:left;padding-left:2px;font:6.6px 'Liberation Sans','Noto Sans CJK SC',sans-serif;line-height:15.6px;padding-top:1px;color:#4a4a4a;overflow:hidden;white-space:nowrap">24.188mNm</div>
<div class="a" style="left:443.5px;top:462.8px;font:6.4px 'Liberation Sans','Noto Sans CJK SC',sans-serif;line-height:15.6px;color:#111">OK</div>
<div class="a" style="left:67.8px;top:400.40000000000003px;width:1px;height:78.0px;background:#f3f3f3"></div>
<div class="a" style="left:98.5px;top:400.40000000000003px;width:1px;height:78.0px;background:#f3f3f3"></div>
<div class="a" style="left:129px;top:400.40000000000003px;width:1px;height:78.0px;background:#f3f3f3"></div>
<div class="a" style="left:165.8px;top:400.40000000000003px;width:1px;height:78.0px;background:#f3f3f3"></div>
<div class="a" style="left:183.8px;top:400.40000000000003px;width:1px;height:78.0px;background:#f3f3f3"></div>
<div class="a" style="left:207px;top:400.40000000000003px;width:1px;height:78.0px;background:#f3f3f3"></div>
<div class="a" style="left:224.4px;top:400.40000000000003px;width:1px;height:78.0px;background:#f3f3f3"></div>
<div class="a" style="left:241px;top:400.40000000000003px;width:1px;height:78.0px;background:#f3f3f3"></div>
<div class="a" style="left:259px;top:400.40000000000003px;width:1px;height:78.0px;background:#f3f3f3"></div>
<div class="a" style="left:275px;top:400.40000000000003px;width:1px;height:78.0px;background:#f3f3f3"></div>
<div class="a" style="left:331px;top:400.40000000000003px;width:1px;height:78.0px;background:#f3f3f3"></div>
<div class="a" style="left:385.5px;top:400.40000000000003px;width:1px;height:78.0px;background:#f3f3f3"></div>
<div class="a" style="left:440.5px;top:400.40000000000003px;width:1px;height:78.0px;background:#f3f3f3"></div>
<div class="a" style="left:23.6px;top:479.8px;width:454.4px;height:6px;border:1px solid #c8c8c8;background:#fff"></div>
<div class="a" style="left:23.8px;top:480px;width:61.8px;height:5.6px;background:#1d6fa3"></div>
<div class="a" style="left:484px;top:387px;width:6.2px;height:92px;background:#fff;border-left:1px solid #c8c8c8;border-right:1px solid #c8c8c8"></div>
<div class="a" style="left:484px;top:387px;width:6.2px;height:39px;background:#1d6fa3"></div>
<div class="a" style="left:484px;top:472.8px;width:6.2px;height:6.2px;background:#1d6fa3"></div>
<svg class="a" style="left:484px;top:387px" width="7" height="7" viewBox="0 0 7 7"><path d="M1.6 4L5 4L3.3 2Z" fill="#e8f4ff"/></svg>
<svg class="a" style="left:484px;top:472.8px" width="7" height="7" viewBox="0 0 7 7"><path d="M1.6 2.6L5 2.6L3.3 4.6Z" fill="#e8f4ff"/></svg>
<div class="a" style="left:522px;top:56.3px;width:308px;height:12.7px;background:#dcdcdc;border-top-right-radius:3px"></div>
<div class="a" style="left:509.2px;top:69.0px;width:12.800000000000011px;height:417.0px;background:#e3e3e3"></div>
<div class="a" style="left:830px;top:62.3px;width:1px;height:423.7px;background:#d6d6d6"></div>
<div class="a" style="left:522px;top:56.3px;width:19px;height:12.7px;border-right:1px solid #c9c9c9;font:6.3px 'Liberation Sans','Noto Sans CJK SC',sans-serif;line-height:12.7px;padding-top:2px;text-align:center;color:#222">总项</div>
<div class="a" style="left:541px;top:56.3px;width:91px;height:12.7px;border-right:1px solid #c9c9c9;font:6.3px 'Liberation Sans','Noto Sans CJK SC',sans-serif;line-height:12.7px;padding-top:2px;text-align:center;color:#222">子项</div>
<div class="a" style="left:632px;top:56.3px;width:55.39999999999998px;height:12.7px;border-right:1px solid #c9c9c9;font:6.3px 'Liberation Sans','Noto Sans CJK SC',sans-serif;line-height:12.7px;padding-top:2px;text-align:center;color:#222">测试参数</div>
<div class="a" style="left:687.4px;top:56.3px;width:123.10000000000002px;height:12.7px;border-right:1px solid #c9c9c9;font:6.3px 'Liberation Sans','Noto Sans CJK SC',sans-serif;line-height:12.7px;padding-top:2px;text-align:center;color:#222">测试结果</div>
<div class="a" style="left:810.5px;top:56.3px;width:19.5px;height:12.7px;border-right:1px solid #c9c9c9;font:6.3px 'Liberation Sans','Noto Sans CJK SC',sans-serif;line-height:12.7px;padding-top:2px;text-align:center;color:#222">判定</div>
<div class="a" style="left:509.2px;top:69.0px;width:12.800000000000011px;height:20.85px;border-bottom:1px solid #cfcfcf;font:6.3px 'Liberation Sans','Noto Sans CJK SC',sans-serif;line-height:20.85px;padding-left:2.5px;padding-top:1.5px;color:#333">1</div>
<div class="a" style="left:541px;top:88.85px;width:289px;height:1px;background:#efefef"></div>
<div class="a blur" style="left:541px;top:69.0px;width:91px;font:500 6.3px 'Liberation Sans','Noto Sans CJK SC',sans-serif;line-height:20.85px;text-align:center;color:#555;padding-top:1px">正转齿槽转矩</div>
<div class="a blur" style="left:632px;top:69.0px;width:55.39999999999998px;font:7.1px 'Liberation Sans','Noto Sans CJK SC',sans-serif;line-height:20.85px;text-align:center;color:#5a5a5a;padding-top:1px">20-30mNm</div>
<div class="a blur" style="left:687.4px;top:69.0px;width:123.10000000000002px;font:7.1px 'Liberation Sans','Noto Sans CJK SC',sans-serif;line-height:20.85px;text-align:center;color:#5a5a5a;padding-top:1px">22.747mNm</div>
<div class="a" style="left:810.5px;top:69.0px;width:19.5px;font:7.2px 'Liberation Sans','Noto Sans CJK SC',sans-serif;line-height:20.85px;padding-top:2px;text-align:center;color:#2fd82f">OK</div>
<div class="a" style="left:509.2px;top:89.85px;width:12.800000000000011px;height:20.85px;border-bottom:1px solid #cfcfcf;font:6.3px 'Liberation Sans','Noto Sans CJK SC',sans-serif;line-height:20.85px;padding-left:2.5px;padding-top:1.5px;color:#333">2</div>
<div class="a" style="left:541px;top:109.69999999999999px;width:289px;height:1px;background:#efefef"></div>
<div class="a blur" style="left:541px;top:89.85px;width:91px;font:500 6.3px 'Liberation Sans','Noto Sans CJK SC',sans-serif;line-height:20.85px;text-align:center;color:#555;padding-top:1px">反转齿槽转矩</div>
<div class="a blur" style="left:632px;top:89.85px;width:55.39999999999998px;font:7.1px 'Liberation Sans','Noto Sans CJK SC',sans-serif;line-height:20.85px;text-align:center;color:#5a5a5a;padding-top:1px">20-30mNm</div>
<div class="a blur" style="left:687.4px;top:89.85px;width:123.10000000000002px;font:7.1px 'Liberation Sans','Noto Sans CJK SC',sans-serif;line-height:20.85px;text-align:center;color:#5a5a5a;padding-top:1px">42.336mNm</div>
<div class="a" style="left:810.5px;top:89.85px;width:19.5px;font:7.2px 'Liberation Sans','Noto Sans CJK SC',sans-serif;line-height:20.85px;padding-top:2px;text-align:center;color:#2fd82f">OK</div>
<div class="a" style="left:509.2px;top:110.7px;width:12.800000000000011px;height:20.85px;border-bottom:1px solid #cfcfcf;font:6.3px 'Liberation Sans','Noto Sans CJK SC',sans-serif;line-height:20.85px;padding-left:2.5px;padding-top:1.5px;color:#333">3</div>
<div class="a" style="left:541px;top:130.55px;width:289px;height:1px;background:#efefef"></div>
<div class="a blur" style="left:541px;top:110.7px;width:91px;font:500 6.3px 'Liberation Sans','Noto Sans CJK SC',sans-serif;line-height:20.85px;text-align:center;color:#555;padding-top:1px">正转谐波次数</div>
<div class="a blur" style="left:632px;top:110.7px;width:55.39999999999998px;font:7.1px 'Liberation Sans','Noto Sans CJK SC',sans-serif;line-height:20.85px;text-align:center;color:#5a5a5a;padding-top:1px">0-5</div>
<div class="a blur" style="left:687.4px;top:110.7px;width:123.10000000000002px;font:7.1px 'Liberation Sans','Noto Sans CJK SC',sans-serif;line-height:20.85px;text-align:center;color:#5a5a5a;padding-top:1px">5.539422</div>
<div class="a" style="left:810.5px;top:110.7px;width:19.5px;font:7.2px 'Liberation Sans','Noto Sans CJK SC',sans-serif;line-height:20.85px;padding-top:2px;text-align:center;color:#2fd82f">OK</div>
<div class="a" style="left:509.2px;top:131.55px;width:12.800000000000011px;height:20.85px;border-bottom:1px solid #cfcfcf;font:6.3px 'Liberation Sans','Noto Sans CJK SC',sans-serif;line-height:20.85px;padding-left:2.5px;padding-top:1.5px;color:#333">4</div>
<div class="a" style="left:541px;top:151.4px;width:289px;height:1px;background:#efefef"></div>
<div class="a blur" style="left:541px;top:131.55px;width:91px;font:500 6.3px 'Liberation Sans','Noto Sans CJK SC',sans-serif;line-height:20.85px;text-align:center;color:#555;padding-top:1px">正转谐波次数</div>
<div class="a blur" style="left:632px;top:131.55px;width:55.39999999999998px;font:7.1px 'Liberation Sans','Noto Sans CJK SC',sans-serif;line-height:20.85px;text-align:center;color:#5a5a5a;padding-top:1px">0-5</div>
<div class="a blur" style="left:687.4px;top:131.55px;width:123.10000000000002px;font:7.1px 'Liberation Sans','Noto Sans CJK SC',sans-serif;line-height:20.85px;text-align:center;color:#5a5a5a;padding-top:1px">5.213428</div>
<div class="a" style="left:810.5px;top:131.55px;width:19.5px;font:7.2px 'Liberation Sans','Noto Sans CJK SC',sans-serif;line-height:20.85px;padding-top:2px;text-align:center;color:#2fd82f">OK</div>
<div class="a" style="left:509.2px;top:152.4px;width:12.800000000000011px;height:20.85px;border-bottom:1px solid #cfcfcf;font:6.3px 'Liberation Sans','Noto Sans CJK SC',sans-serif;line-height:20.85px;padding-left:2.5px;padding-top:1.5px;color:#333">5</div>
<div class="a" style="left:541px;top:172.25px;width:289px;height:1px;background:#efefef"></div>
<div class="a blur" style="left:541px;top:152.4px;width:91px;font:500 6.3px 'Liberation Sans','Noto Sans CJK SC',sans-serif;line-height:20.85px;text-align:center;color:#555;padding-top:1px">正转谐波次数</div>
<div class="a blur" style="left:632px;top:152.4px;width:55.39999999999998px;font:7.1px 'Liberation Sans','Noto Sans CJK SC',sans-serif;line-height:20.85px;text-align:center;color:#5a5a5a;padding-top:1px">0-5</div>
<div class="a blur" style="left:687.4px;top:152.4px;width:123.10000000000002px;font:7.1px 'Liberation Sans','Noto Sans CJK SC',sans-serif;line-height:20.85px;text-align:center;color:#5a5a5a;padding-top:1px">0.865562</div>
<div class="a" style="left:810.5px;top:152.4px;width:19.5px;font:7.2px 'Liberation Sans','Noto Sans CJK SC',sans-serif;line-height:20.85px;padding-top:2px;text-align:center;color:#2fd82f">OK</div>
<div class="a" style="left:509.2px;top:173.25px;width:12.800000000000011px;height:20.85px;border-bottom:1px solid #cfcfcf;font:6.3px 'Liberation Sans','Noto Sans CJK SC',sans-serif;line-height:20.85px;padding-left:2.5px;padding-top:1.5px;color:#333">6</div>
<div class="a" style="left:541px;top:193.1px;width:289px;height:1px;background:#efefef"></div>
<div class="a blur" style="left:541px;top:173.25px;width:91px;font:500 6.3px 'Liberation Sans','Noto Sans CJK SC',sans-serif;line-height:20.85px;text-align:center;color:#555;padding-top:1px">正转谐波次数</div>
<div class="a blur" style="left:632px;top:173.25px;width:55.39999999999998px;font:7.1px 'Liberation Sans','Noto Sans CJK SC',sans-serif;line-height:20.85px;text-align:center;color:#5a5a5a;padding-top:1px">0-5</div>
<div class="a blur" style="left:687.4px;top:173.25px;width:123.10000000000002px;font:7.1px 'Liberation Sans','Noto Sans CJK SC',sans-serif;line-height:20.85px;text-align:center;color:#5a5a5a;padding-top:1px">0.126778</div>
<div class="a" style="left:810.5px;top:173.25px;width:19.5px;font:7.2px 'Liberation Sans','Noto Sans CJK SC',sans-serif;line-height:20.85px;padding-top:2px;text-align:center;color:#2fd82f">OK</div>
<div class="a" style="left:509.2px;top:194.10000000000002px;width:12.800000000000011px;height:20.85px;border-bottom:1px solid #cfcfcf;font:6.3px 'Liberation Sans','Noto Sans CJK SC',sans-serif;line-height:20.85px;padding-left:2.5px;padding-top:1.5px;color:#333">7</div>
<div class="a" style="left:541px;top:213.95000000000002px;width:289px;height:1px;background:#efefef"></div>
<div class="a blur" style="left:541px;top:194.10000000000002px;width:91px;font:500 6.3px 'Liberation Sans','Noto Sans CJK SC',sans-serif;line-height:20.85px;text-align:center;color:#555;padding-top:1px">反转齿槽转矩</div>
<div class="a blur" style="left:632px;top:194.10000000000002px;width:55.39999999999998px;font:7.1px 'Liberation Sans','Noto Sans CJK SC',sans-serif;line-height:20.85px;text-align:center;color:#5a5a5a;padding-top:1px">20-30mNm</div>
<div class="a blur" style="left:687.4px;top:194.10000000000002px;width:123.10000000000002px;font:7.1px 'Liberation Sans','Noto Sans CJK SC',sans-serif;line-height:20.85px;text-align:center;color:#5a5a5a;padding-top:1px">25.866mNm</div>
<div class="a" style="left:810.5px;top:194.10000000000002px;width:19.5px;font:7.2px 'Liberation Sans','Noto Sans CJK SC',sans-serif;line-height:20.85px;padding-top:2px;text-align:center;color:#2fd82f">OK</div>
<div class="a" style="left:509.2px;top:214.95000000000002px;width:12.800000000000011px;height:20.85px;border-bottom:1px solid #cfcfcf;font:6.3px 'Liberation Sans','Noto Sans CJK SC',sans-serif;line-height:20.85px;padding-left:2.5px;padding-top:1.5px;color:#333">8</div>
<div class="a" style="left:541px;top:234.8px;width:289px;height:1px;background:#efefef"></div>
<div class="a blur" style="left:541px;top:214.95000000000002px;width:91px;font:500 6.3px 'Liberation Sans','Noto Sans CJK SC',sans-serif;line-height:20.85px;text-align:center;color:#555;padding-top:1px">反转齿槽转矩</div>
<div class="a blur" style="left:632px;top:214.95000000000002px;width:55.39999999999998px;font:7.1px 'Liberation Sans','Noto Sans CJK SC',sans-serif;line-height:20.85px;text-align:center;color:#5a5a5a;padding-top:1px">20-30mNm</div>
<div class="a blur" style="left:687.4px;top:214.95000000000002px;width:123.10000000000002px;font:7.1px 'Liberation Sans','Noto Sans CJK SC',sans-serif;line-height:20.85px;text-align:center;color:#5a5a5a;padding-top:1px">26.866mNm</div>
<div class="a" style="left:810.5px;top:214.95000000000002px;width:19.5px;font:7.2px 'Liberation Sans','Noto Sans CJK SC',sans-serif;line-height:20.85px;padding-top:2px;text-align:center;color:#2fd82f">OK</div>
<div class="a" style="left:509.2px;top:235.8px;width:12.800000000000011px;height:20.85px;border-bottom:1px solid #cfcfcf;font:6.3px 'Liberation Sans','Noto Sans CJK SC',sans-serif;line-height:20.85px;padding-left:2.5px;padding-top:1.5px;color:#333">9</div>
<div class="a" style="left:541px;top:255.65000000000003px;width:289px;height:1px;background:#efefef"></div>
<div class="a blur" style="left:541px;top:235.8px;width:91px;font:500 6.3px 'Liberation Sans','Noto Sans CJK SC',sans-serif;line-height:20.85px;text-align:center;color:#555;padding-top:1px">反转谐波次数</div>
<div class="a blur" style="left:632px;top:235.8px;width:55.39999999999998px;font:7.1px 'Liberation Sans','Noto Sans CJK SC',sans-serif;line-height:20.85px;text-align:center;color:#5a5a5a;padding-top:1px">0-5</div>
<div class="a blur" style="left:687.4px;top:235.8px;width:123.10000000000002px;font:7.1px 'Liberation Sans','Noto Sans CJK SC',sans-serif;line-height:20.85px;text-align:center;color:#5a5a5a;padding-top:1px">0.471289</div>
<div class="a" style="left:810.5px;top:235.8px;width:19.5px;font:7.2px 'Liberation Sans','Noto Sans CJK SC',sans-serif;line-height:20.85px;padding-top:2px;text-align:center;color:#2fd82f">OK</div>
<div class="a" style="left:509.2px;top:256.65px;width:12.800000000000011px;height:20.85px;border-bottom:1px solid #cfcfcf;font:6.3px 'Liberation Sans','Noto Sans CJK SC',sans-serif;line-height:20.85px;padding-left:2.5px;padding-top:1.5px;color:#333">10</div>
<div class="a" style="left:541px;top:276.5px;width:289px;height:1px;background:#efefef"></div>
<div class="a blur" style="left:541px;top:256.65px;width:91px;font:500 6.3px 'Liberation Sans','Noto Sans CJK SC',sans-serif;line-height:20.85px;text-align:center;color:#555;padding-top:1px">反转谐波次数</div>
<div class="a blur" style="left:632px;top:256.65px;width:55.39999999999998px;font:7.1px 'Liberation Sans','Noto Sans CJK SC',sans-serif;line-height:20.85px;text-align:center;color:#5a5a5a;padding-top:1px">0-5</div>
<div class="a blur" style="left:687.4px;top:256.65px;width:123.10000000000002px;font:7.1px 'Liberation Sans','Noto Sans CJK SC',sans-serif;line-height:20.85px;text-align:center;color:#5a5a5a;padding-top:1px">0.422338</div>
<div class="a" style="left:810.5px;top:256.65px;width:19.5px;font:7.2px 'Liberation Sans','Noto Sans CJK SC',sans-serif;line-height:20.85px;padding-top:2px;text-align:center;color:#2fd82f">OK</div>
<div class="a" style="left:509.2px;top:277.5px;width:12.800000000000011px;height:20.85px;border-bottom:1px solid #cfcfcf;font:6.3px 'Liberation Sans','Noto Sans CJK SC',sans-serif;line-height:20.85px;padding-left:2.5px;padding-top:1.5px;color:#333">11</div>
<div class="a" style="left:541px;top:297.35px;width:289px;height:1px;background:#efefef"></div>
<div class="a blur" style="left:541px;top:277.5px;width:91px;font:500 6.3px 'Liberation Sans','Noto Sans CJK SC',sans-serif;line-height:20.85px;text-align:center;color:#555;padding-top:1px">反转谐波次数</div>
<div class="a blur" style="left:632px;top:277.5px;width:55.39999999999998px;font:7.1px 'Liberation Sans','Noto Sans CJK SC',sans-serif;line-height:20.85px;text-align:center;color:#5a5a5a;padding-top:1px">0-5</div>
<div class="a blur" style="left:687.4px;top:277.5px;width:123.10000000000002px;font:7.1px 'Liberation Sans','Noto Sans CJK SC',sans-serif;line-height:20.85px;text-align:center;color:#5a5a5a;padding-top:1px">0.152351</div>
<div class="a" style="left:810.5px;top:277.5px;width:19.5px;font:7.2px 'Liberation Sans','Noto Sans CJK SC',sans-serif;line-height:20.85px;padding-top:2px;text-align:center;color:#2fd82f">OK</div>
<div class="a" style="left:509.2px;top:298.35px;width:12.800000000000011px;height:20.85px;border-bottom:1px solid #cfcfcf;font:6.3px 'Liberation Sans','Noto Sans CJK SC',sans-serif;line-height:20.85px;padding-left:2.5px;padding-top:1.5px;color:#333">12</div>
<div class="a" style="left:522px;top:318.20000000000005px;width:308px;height:1px;background:#efefef"></div>
<div class="a blur" style="left:541px;top:298.35px;width:91px;font:500 6.3px 'Liberation Sans','Noto Sans CJK SC',sans-serif;line-height:20.85px;text-align:center;color:#555;padding-top:1px">反转谐波次数</div>
<div class="a blur" style="left:632px;top:298.35px;width:55.39999999999998px;font:7.1px 'Liberation Sans','Noto Sans CJK SC',sans-serif;line-height:20.85px;text-align:center;color:#5a5a5a;padding-top:1px">0-5</div>
<div class="a blur" style="left:687.4px;top:298.35px;width:123.10000000000002px;font:7.1px 'Liberation Sans','Noto Sans CJK SC',sans-serif;line-height:20.85px;text-align:center;color:#5a5a5a;padding-top:1px">0.574848</div>
<div class="a" style="left:810.5px;top:298.35px;width:19.5px;font:7.2px 'Liberation Sans','Noto Sans CJK SC',sans-serif;line-height:20.85px;padding-top:2px;text-align:center;color:#2fd82f">OK</div>
<div class="a" style="left:509.2px;top:319.20000000000005px;width:12.800000000000011px;height:20.85px;border-bottom:1px solid #cfcfcf;font:6.3px 'Liberation Sans','Noto Sans CJK SC',sans-serif;line-height:20.85px;padding-left:2.5px;padding-top:1.5px;color:#333">13</div>
<div class="a" style="left:522px;top:339.05000000000007px;width:308px;height:1px;background:#efefef"></div>
<div class="a" style="left:509.2px;top:340.05px;width:12.800000000000011px;height:20.85px;border-bottom:1px solid #cfcfcf;font:6.3px 'Liberation Sans','Noto Sans CJK SC',sans-serif;line-height:20.85px;padding-left:2.5px;padding-top:1.5px;color:#333">14</div>
<div class="a" style="left:522px;top:359.90000000000003px;width:308px;height:1px;background:#efefef"></div>
<div class="a" style="left:509.2px;top:360.90000000000003px;width:12.800000000000011px;height:20.85px;border-bottom:1px solid #cfcfcf;font:6.3px 'Liberation Sans','Noto Sans CJK SC',sans-serif;line-height:20.85px;padding-left:2.5px;padding-top:1.5px;color:#333">15</div>
<div class="a" style="left:522px;top:380.75000000000006px;width:308px;height:1px;background:#efefef"></div>
<div class="a" style="left:509.2px;top:381.75px;width:12.800000000000011px;height:20.85px;border-bottom:1px solid #cfcfcf;font:6.3px 'Liberation Sans','Noto Sans CJK SC',sans-serif;line-height:20.85px;padding-left:2.5px;padding-top:1.5px;color:#333">16</div>
<div class="a" style="left:522px;top:401.6px;width:308px;height:1px;background:#efefef"></div>
<div class="a" style="left:509.2px;top:402.6px;width:12.800000000000011px;height:20.85px;border-bottom:1px solid #cfcfcf;font:6.3px 'Liberation Sans','Noto Sans CJK SC',sans-serif;line-height:20.85px;padding-left:2.5px;padding-top:1.5px;color:#333">17</div>
<div class="a" style="left:522px;top:422.45000000000005px;width:308px;height:1px;background:#efefef"></div>
<div class="a" style="left:509.2px;top:423.45000000000005px;width:12.800000000000011px;height:20.85px;border-bottom:1px solid #cfcfcf;font:6.3px 'Liberation Sans','Noto Sans CJK SC',sans-serif;line-height:20.85px;padding-left:2.5px;padding-top:1.5px;color:#333">18</div>
<div class="a" style="left:522px;top:443.30000000000007px;width:308px;height:1px;background:#efefef"></div>
<div class="a" style="left:509.2px;top:444.3px;width:12.800000000000011px;height:20.85px;border-bottom:1px solid #cfcfcf;font:6.3px 'Liberation Sans','Noto Sans CJK SC',sans-serif;line-height:20.85px;padding-left:2.5px;padding-top:1.5px;color:#333">19</div>
<div class="a" style="left:522px;top:464.15000000000003px;width:308px;height:1px;background:#efefef"></div>
<div class="a" style="left:509.2px;top:465.15000000000003px;width:12.800000000000011px;height:20.85px;border-bottom:1px solid #cfcfcf;font:6.3px 'Liberation Sans','Noto Sans CJK SC',sans-serif;line-height:20.85px;padding-left:2.5px;padding-top:1.5px;color:#333">20</div>
<div class="a" style="left:522px;top:485.00000000000006px;width:308px;height:1px;background:#efefef"></div>
<div class="a" style="left:521px;top:69.0px;width:1px;height:417.0px;background:#ececec"></div>
<div class="a" style="left:540px;top:69.0px;width:1px;height:417.0px;background:#ececec"></div>
<div class="a" style="left:631px;top:69.0px;width:1px;height:417.0px;background:#ececec"></div>
<div class="a" style="left:686.4px;top:69.0px;width:1px;height:417.0px;background:#ececec"></div>
<div class="a" style="left:809.5px;top:69.0px;width:1px;height:417.0px;background:#ececec"></div>
<div class="a" style="left:522px;top:185.47500000000002px;width:19px;font:6.2px 'Liberation Sans','Noto Sans CJK SC',sans-serif;line-height:8.6px;text-align:center;color:#222;background:#fff">齿槽<br>转矩</div>
<div class="a" style="left:850px;top:58.3px;width:133.8px;height:54.6px;border:1.7px solid #103d78;border-radius:5px"></div>
<div class="a" style="left:856.5px;top:55.2px;padding:0 2px;background:#fff;font:7.6px 'Liberation Sans','Noto Sans CJK SC',sans-serif;line-height:8px;color:#777">测试状态</div>
<div class="a" style="left:896.6px;top:66.1px;font:40px 'Liberation Serif',serif;line-height:36px;color:#11e011;-webkit-text-stroke:0.5px #11e011;transform:scaleX(0.69);transform-origin:0 0;white-space:nowrap">OK</div>
<div class="gb" style="left:849.6px;top:123.1px;width:134.3px;height:90.8px;border-radius:5px"></div>
<div class="gt" style="left:854.5px;top:120.2px">Test program</div>
<div class="a" style="left:856.5px;top:128.3px;width:120.3px;height:17.5px;background:#fff;border:2px solid #393939;border-radius:4px"></div>
<div class="a" style="left:860.2px;top:132.0px;width:29.799999999999955px;height:10.1px;border:1px solid #303030;border-radius:3px;background:#626262;font:500 7.5px 'Liberation Sans','Noto Sans CJK SC',sans-serif;line-height:8.1px;text-align:center;color:#f2f2f2;white-space:nowrap;letter-spacing:-0.4px">测试型号</div>
<div class="a" style="left:892.2px;top:132.0px;width:81.19999999999997px;height:10.1px;border:1px solid #303030;border-radius:3px;background:#4f4f4f;font:8.8px 'Liberation Sans','Noto Sans CJK SC',sans-serif;line-height:8.1px;padding-left:1.6px;color:#f2f2f2;white-space:nowrap;overflow:hidden">aip_config</div>
<div class="a" style="left:966.4px;top:133.0px;width:6.2px;height:8.1px;background:#5a5a5a;border-left:0.8px solid #c8c8c8"></div>
<svg class="a" style="left:967.6px;top:135.25px" width="5" height="4" viewBox="0 0 5 4"><path d="M0.6 0.8L4.2 0.8L2.4 2.8Z" fill="#f4f4f4"/></svg>
<div class="a" style="left:856.5px;top:149.9px;width:120.3px;height:17.5px;background:#fff;border:2px solid #393939;border-radius:4px"></div>
<div class="a" style="left:860.2px;top:153.6px;width:29.799999999999955px;height:10.1px;border:1px solid #303030;border-radius:3px;background:#626262;font:500 7.5px 'Liberation Sans','Noto Sans CJK SC',sans-serif;line-height:8.1px;text-align:center;color:#f2f2f2;white-space:nowrap;letter-spacing:-0.4px">测试项目</div>
<div class="a" style="left:892.2px;top:153.6px;width:81.19999999999997px;height:10.1px;border:1px solid #303030;border-radius:3px;background:#4f4f4f;font:8.8px 'Liberation Sans','Noto Sans CJK SC',sans-serif;line-height:8.1px;padding-left:1.6px;color:#f2f2f2;white-space:nowrap;overflow:hidden">齿槽转矩</div>
<div class="a" style="left:966.4px;top:154.6px;width:6.2px;height:8.1px;background:#5a5a5a;border-left:0.8px solid #c8c8c8"></div>
<svg class="a" style="left:967.6px;top:156.85px" width="5" height="4" viewBox="0 0 5 4"><path d="M0.6 0.8L4.2 0.8L2.4 2.8Z" fill="#f4f4f4"/></svg>
<div class="a" style="left:856.5px;top:171.3px;width:120.3px;height:16.299999999999983px;background:#fff;border:2px solid #393939;border-radius:4px"></div>
<div class="a" style="left:860.2px;top:175.0px;width:29.799999999999955px;height:8.899999999999983px;border:1px solid #303030;border-radius:3px;background:#626262;font:500 7.5px 'Liberation Sans','Noto Sans CJK SC',sans-serif;line-height:6.899999999999983px;text-align:center;color:#f2f2f2;white-space:nowrap;letter-spacing:-0.4px">测试参数</div>
<div class="a" style="left:892.2px;top:175.0px;width:81.19999999999997px;height:8.899999999999983px;border:1px solid #303030;border-radius:3px;background:#4f4f4f;font:bold 8.8px 'Liberation Sans','Noto Sans CJK SC',sans-serif;line-height:6.899999999999983px;padding-left:1.6px;color:#f2f2f2;white-space:nowrap;overflow:hidden">default</div>
<div class="a" style="left:856.5px;top:191.8px;width:120.3px;height:15.5px;background:#fff;border:2px solid #393939;border-radius:4px"></div>
<div class="a" style="left:860.2px;top:195.5px;width:47.39999999999998px;height:8.1px;border:1px solid #303030;border-radius:3px;background:#626262;font:500 7.5px 'Liberation Sans','Noto Sans CJK SC',sans-serif;line-height:6.1px;text-align:center;color:#f2f2f2;white-space:nowrap;letter-spacing:-0.4px">电机编号</div>
<div class="a" style="left:909.8000000000001px;top:195.5px;width:63.59999999999995px;height:8.1px;border:1px solid #303030;border-radius:3px;background:#4f4f4f;font:8.8px 'Liberation Sans','Noto Sans CJK SC',sans-serif;line-height:6.1px;padding-left:1.6px;color:#f2f2f2;white-space:nowrap;overflow:hidden"></div>
<div class="a" style="left:849.8px;top:226.2px;width:133.4px;height:129px;border:2px solid #143f78;border-radius:5px"></div>
<div class="a" style="left:857px;top:222.8px;padding:0 2px;background:#fff;font:7.4px 'Liberation Sans','Noto Sans CJK SC',sans-serif;line-height:8px;color:#555">当前信息</div>
<div class="a" style="left:856px;top:230.8px;font:6.1px 'Liberation Sans','Noto Sans CJK SC',sans-serif;line-height:7.5px;color:#6a6a6a;white-space:nowrap">当前时间<span style="font-family:'Liberation Mono',monospace;font-size:5.6px;letter-spacing:-0.2px">:2024-11-04 14:52:27</span></div>
<div class="a" style="left:856px;top:238.3px;font:6.1px 'Liberation Sans','Noto Sans CJK SC',sans-serif;line-height:7.5px;color:#6a6a6a;white-space:nowrap">当前用户<span style="font-family:'Liberation Mono',monospace;font-size:5.6px;letter-spacing:-0.2px">:admin</span></div>
<div class="a" style="left:856px;top:245.8px;font:6.1px 'Liberation Sans','Noto Sans CJK SC',sans-serif;line-height:7.5px;color:#6a6a6a;white-space:nowrap">测试时间<span style="font-family:'Liberation Mono',monospace;font-size:5.6px;letter-spacing:-0.2px">:22.3s</span></div>
<div class="a" style="left:866.1px;top:306.1px;width:28.4px;height:28.4px;background:#0d3d8a;border:0.6px solid #2a5aa0"></div>
<div class="a" style="left:903.2px;top:306.1px;width:27.8px;height:28.4px;background:#13a58b;border:0.6px solid #2f6fb0"></div>
<svg class="a" style="left:855px;top:328px" width="130" height="12" viewBox="0 0 130 12"><line x1="6" y1="6.5" x2="117" y2="6.5" stroke="#2a2a2a" stroke-width="0.8"/><path d="M115 3.8L122 6.5L115 9.2Z" fill="#111"/><line x1="25" y1="6.5" x2="25" y2="8.8" stroke="#333" stroke-width="0.7"/><line x1="62.2" y1="6.5" x2="62.2" y2="8.8" stroke="#333" stroke-width="0.7"/><line x1="99.3" y1="6.5" x2="99.3" y2="8.8" stroke="#333" stroke-width="0.7"/></svg>
<div class="a" style="left:860.3px;top:300px;width:40px;text-align:center;font:5.8px 'Liberation Mono',monospace;letter-spacing:-0.3px;line-height:7px;color:#333">100.00%</div>
<div class="a" style="left:897.2px;top:300px;width:40px;text-align:center;font:5.8px 'Liberation Mono',monospace;letter-spacing:-0.3px;line-height:7px;color:#333">100.00%</div>
<div class="a" style="left:934.5px;top:327.3px;width:40px;text-align:center;font:5.8px 'Liberation Mono',monospace;letter-spacing:-0.3px;line-height:7px;color:#333">0.00%</div>
<div class="a" style="left:865px;top:336.6px;width:30px;text-align:center;font:5.8px 'Liberation Mono',monospace;line-height:6px;color:#333">1</div>
<div class="a" style="left:865px;top:343.6px;width:30px;text-align:center;font:6.2px 'Liberation Sans','Noto Sans CJK SC',sans-serif;line-height:7px;color:#333">总数</div>
<div class="a" style="left:902.2px;top:336.6px;width:30px;text-align:center;font:5.8px 'Liberation Mono',monospace;line-height:6px;color:#333">1</div>
<div class="a" style="left:902.2px;top:343.6px;width:30px;text-align:center;font:6.2px 'Liberation Sans','Noto Sans CJK SC',sans-serif;line-height:7px;color:#333">合格</div>
<div class="a" style="left:939.3px;top:336.6px;width:30px;text-align:center;font:5.8px 'Liberation Mono',monospace;line-height:6px;color:#333">0</div>
<div class="a" style="left:939.3px;top:343.6px;width:30px;text-align:center;font:6.2px 'Liberation Sans','Noto Sans CJK SC',sans-serif;line-height:7px;color:#333">不良</div>
<div class="a" style="left:850px;top:361.7px;width:133.2px;height:129.2px;border:2px solid #143f78;border-radius:5px"></div>
<div class="gt" style="left:853.7px;top:359.2px">Log</div>
<div class="a" style="left:852px;top:368.3px;width:118px;height:116px;overflow:hidden">
<div class="a" style="left:6.4px;top:-2.70px;white-space:nowrap;font:6.6px 'Liberation Mono',monospace;line-height:7.2px;color:#111;transform:scaleX(0.765);transform-origin:0 0">14:51:23.716:</div>
<div class="a" style="left:46.6px;top:-2.70px;white-space:nowrap;font:500 5.8px 'Liberation Sans','Noto Sans CJK SC',sans-serif;line-height:7.2px;letter-spacing:0.4px;color:#111">当前转速 900</div>
<div class="a" style="left:6.4px;top:4.54px;white-space:nowrap;font:6.6px 'Liberation Mono',monospace;line-height:7.2px;color:#111;transform:scaleX(0.765);transform-origin:0 0">14:51:23.717:</div>
<div class="a" style="left:46.6px;top:4.54px;white-space:nowrap;font:500 5.8px 'Liberation Sans','Noto Sans CJK SC',sans-serif;line-height:7.2px;letter-spacing:0.4px;color:#111">采集数据...</div>
<div class="a" style="left:6.4px;top:11.78px;white-space:nowrap;font:6.6px 'Liberation Mono',monospace;line-height:7.2px;color:#111;transform:scaleX(0.765);transform-origin:0 0">14:51:32.426:</div>
<div class="a" style="left:46.6px;top:11.78px;white-space:nowrap;font:500 5.8px 'Liberation Sans','Noto Sans CJK SC',sans-serif;line-height:7.2px;letter-spacing:0.4px;color:#111">停止采集</div>
<div class="a" style="left:6.4px;top:19.02px;white-space:nowrap;font:6.6px 'Liberation Mono',monospace;line-height:7.2px;color:#111;transform:scaleX(0.765);transform-origin:0 0">14:51:32.427:</div>
<div class="a" style="left:46.6px;top:19.02px;white-space:nowrap;font:500 5.8px 'Liberation Sans','Noto Sans CJK SC',sans-serif;line-height:7.2px;letter-spacing:0.4px;color:#111">减速中。。</div>
<div class="a" style="left:6.4px;top:26.26px;white-space:nowrap;font:6.6px 'Liberation Mono',monospace;line-height:7.2px;color:#111;transform:scaleX(0.765);transform-origin:0 0">14:51:32.974:</div>
<div class="a" style="left:46.6px;top:26.26px;white-space:nowrap;font:500 5.8px 'Liberation Sans','Noto Sans CJK SC',sans-serif;line-height:7.2px;letter-spacing:0.4px;color:#111">当前转速 2</div>
<div class="a" style="left:6.4px;top:33.50px;white-space:nowrap;font:6.6px 'Liberation Mono',monospace;line-height:7.2px;color:#111;transform:scaleX(0.765);transform-origin:0 0">14:51:32.983:</div>
<div class="a" style="left:46.6px;top:33.50px;white-space:nowrap;font:500 5.8px 'Liberation Sans','Noto Sans CJK SC',sans-serif;line-height:7.2px;letter-spacing:0.4px;color:#111">正向齿槽测试</div>
<div class="a" style="left:6.4px;top:40.74px;white-space:nowrap;font:6.6px 'Liberation Mono',monospace;line-height:7.2px;color:#111;transform:scaleX(0.765);transform-origin:0 0">14:51:32.984:</div>
<div class="a" style="left:46.6px;top:40.74px;white-space:nowrap;font:500 5.8px 'Liberation Sans','Noto Sans CJK SC',sans-serif;line-height:7.2px;letter-spacing:0.4px;color:#111">等待转速到达900</div>
<div class="a" style="left:6.4px;top:47.98px;white-space:nowrap;font:6.6px 'Liberation Mono',monospace;line-height:7.2px;color:#111;transform:scaleX(0.765);transform-origin:0 0">14:51:32.984:</div>
<div class="a" style="left:46.6px;top:47.98px;white-space:nowrap;font:500 5.8px 'Liberation Sans','Noto Sans CJK SC',sans-serif;line-height:7.2px;letter-spacing:0.4px;color:#111">减速比: 30</div>
<div class="a" style="left:6.4px;top:55.22px;white-space:nowrap;font:6.6px 'Liberation Mono',monospace;line-height:7.2px;color:#111;transform:scaleX(0.765);transform-origin:0 0">14:51:33.785:</div>
<div class="a" style="left:46.6px;top:55.22px;white-space:nowrap;font:500 5.8px 'Liberation Sans','Noto Sans CJK SC',sans-serif;line-height:7.2px;letter-spacing:0.4px;color:#111">当前转速 902</div>
<div class="a" style="left:6.4px;top:62.46px;white-space:nowrap;font:6.6px 'Liberation Mono',monospace;line-height:7.2px;color:#111;transform:scaleX(0.765);transform-origin:0 0">14:51:33.788:</div>
<div class="a" style="left:46.6px;top:62.46px;white-space:nowrap;font:500 5.8px 'Liberation Sans','Noto Sans CJK SC',sans-serif;line-height:7.2px;letter-spacing:0.4px;color:#111">采集数据...</div>
<div class="a" style="left:6.4px;top:69.70px;white-space:nowrap;font:6.6px 'Liberation Mono',monospace;line-height:7.2px;color:#111;transform:scaleX(0.765);transform-origin:0 0">14:51:43.102:</div>
<div class="a" style="left:46.6px;top:69.70px;white-space:nowrap;font:500 5.8px 'Liberation Sans','Noto Sans CJK SC',sans-serif;line-height:7.2px;letter-spacing:0.4px;color:#111">停止采集</div>
<div class="a" style="left:6.4px;top:76.94px;white-space:nowrap;font:6.6px 'Liberation Mono',monospace;line-height:7.2px;color:#111;transform:scaleX(0.765);transform-origin:0 0">14:51:43.102:</div>
<div class="a" style="left:46.6px;top:76.94px;white-space:nowrap;font:500 5.8px 'Liberation Sans','Noto Sans CJK SC',sans-serif;line-height:7.2px;letter-spacing:0.4px;color:#111">减速中。。</div>
<div class="a" style="left:6.4px;top:84.18px;white-space:nowrap;font:6.6px 'Liberation Mono',monospace;line-height:7.2px;color:#111;transform:scaleX(0.765);transform-origin:0 0">14:51:43.767:</div>
<div class="a" style="left:46.6px;top:84.18px;white-space:nowrap;font:500 5.8px 'Liberation Sans','Noto Sans CJK SC',sans-serif;line-height:7.2px;letter-spacing:0.4px;color:#111">当前转速 4</div>
<div class="a" style="left:6.4px;top:91.42px;white-space:nowrap;font:6.6px 'Liberation Mono',monospace;line-height:7.2px;color:#111;transform:scaleX(0.765);transform-origin:0 0">14:51:43.767:</div>
<div class="a" style="left:46.6px;top:91.42px;white-space:nowrap;font:500 5.8px 'Liberation Sans','Noto Sans CJK SC',sans-serif;line-height:7.2px;letter-spacing:0.4px;color:#111">停止采集</div>
<div class="a" style="left:6.4px;top:98.66px;white-space:nowrap;font:6.6px 'Liberation Mono',monospace;line-height:7.2px;color:#111;transform:scaleX(0.765);transform-origin:0 0">14:51:43.768:</div>
<div class="a" style="left:46.6px;top:98.66px;white-space:nowrap;font:500 5.8px 'Liberation Sans','Noto Sans CJK SC',sans-serif;line-height:7.2px;letter-spacing:0.4px;color:#111">当前转速</div>
<div class="a" style="left:6.4px;top:105.90px;white-space:nowrap;font:6.6px 'Liberation Mono',monospace;line-height:7.2px;color:#111;transform:scaleX(0.765);transform-origin:0 0">14:51:43.769:</div>
<div class="a" style="left:46.6px;top:105.90px;white-space:nowrap;font:500 5.8px 'Liberation Sans','Noto Sans CJK SC',sans-serif;line-height:7.2px;letter-spacing:0.4px;color:#111">伺服已停止</div>
</div>
<div class="a" style="left:970.2px;top:368.3px;width:6.8px;height:115.5px;border-left:1px solid #aeb6c0;border-right:1px solid #aeb6c0"></div>
<div class="a" style="left:970.2px;top:368.3px;width:6.8px;height:6.8px;background:#0f4b78"></div>
<div class="a" style="left:972.1px;top:370.2px;width:3px;height:3px;background:#bfe6ff;border-radius:1px"></div>
<div class="a" style="left:970.2px;top:476.8px;width:6.8px;height:7px;background:#0f4b78"></div>
<div class="a" style="left:972.1px;top:479.8px;width:3px;height:2px;background:#bfe6ff;border-radius:1px"></div>
<div class="a" style="left:17.0px;top:510px;width:78.6px;height:18px;background:#595959;border:2px solid #0c3c86;border-radius:3px;font:bold 7px 'Liberation Sans','Noto Sans CJK SC',sans-serif;line-height:16.6px;text-align:center;color:#f6f6f6">退出程序</div>
<div class="a" style="left:97.68px;top:510px;width:78.6px;height:18px;background:#595959;border:2px solid #0c3c86;border-radius:3px;font:bold 7px 'Liberation Sans','Noto Sans CJK SC',sans-serif;line-height:16.6px;text-align:center;color:#f6f6f6">主菜单</div>
<div class="a" style="left:179.86px;top:510px;width:77.3px;height:17.6px;background:#d4d4d4;border-radius:2.5px;font:bold 7px 'Liberation Sans','Noto Sans CJK SC',sans-serif;line-height:20px;text-align:center;color:#bdbdbd">标定页面</div>
<div class="a" style="left:259.04px;top:510px;width:78.6px;height:18px;background:#595959;border:2px solid #0c3c86;border-radius:3px;font:bold 7px 'Liberation Sans','Noto Sans CJK SC',sans-serif;line-height:16.6px;text-align:center;color:#f6f6f6">型号管理</div>
<div class="a" style="left:339.72px;top:510px;width:78.6px;height:18px;background:#595959;border:2px solid #0c3c86;border-radius:3px;font:bold 7px 'Liberation Sans','Noto Sans CJK SC',sans-serif;line-height:16.6px;text-align:center;color:#f6f6f6">数据管理</div>
<div class="a" style="left:420.40000000000003px;top:510px;width:78.6px;height:18px;background:#595959;border:2px solid #0c3c86;border-radius:3px;font:bold 7px 'Liberation Sans','Noto Sans CJK SC',sans-serif;line-height:16.6px;text-align:center;color:#f6f6f6">系统设置</div>
<div class="a" style="left:501.08000000000004px;top:510px;width:78.6px;height:18px;background:#595959;border:2px solid #0c3c86;border-radius:3px;font:bold 7px 'Liberation Sans','Noto Sans CJK SC',sans-serif;line-height:16.6px;text-align:center;color:#f6f6f6">调试界面</div>
<div class="a" style="left:581.76px;top:510px;width:78.6px;height:18px;background:#595959;border:2px solid #0c3c86;border-radius:3px;font:bold 7px 'Liberation Sans','Noto Sans CJK SC',sans-serif;line-height:16.6px;text-align:center;color:#f6f6f6">启动测试</div>
<div class="a" style="left:662.44px;top:510px;width:78.6px;height:18px;background:#595959;border:2px solid #0c3c86;border-radius:3px;font:bold 7px 'Liberation Sans','Noto Sans CJK SC',sans-serif;line-height:16.6px;text-align:center;color:#f6f6f6">停止</div>
<div class="a" style="left:743.1200000000001px;top:510px;width:78.6px;height:18px;background:#595959;border:2px solid #0c3c86;border-radius:3px;font:bold 7px 'Liberation Sans','Noto Sans CJK SC',sans-serif;line-height:16.6px;text-align:center;color:#f6f6f6">单步测试</div>
<div class="a" style="left:823.8000000000001px;top:510px;width:78.6px;height:18px;background:#595959;border:2px solid #0c3c86;border-radius:3px;font:bold 7px 'Liberation Sans','Noto Sans CJK SC',sans-serif;line-height:16.6px;text-align:center;color:#f6f6f6">振动定位</div>
<div class="a" style="left:904.48px;top:510px;width:78.6px;height:18px;background:#595959;border:2px solid #0c3c86;border-radius:3px;font:bold 7px 'Liberation Sans','Noto Sans CJK SC',sans-serif;line-height:16.6px;text-align:center;color:#f6f6f6">数据分析</div>
</body></html>
